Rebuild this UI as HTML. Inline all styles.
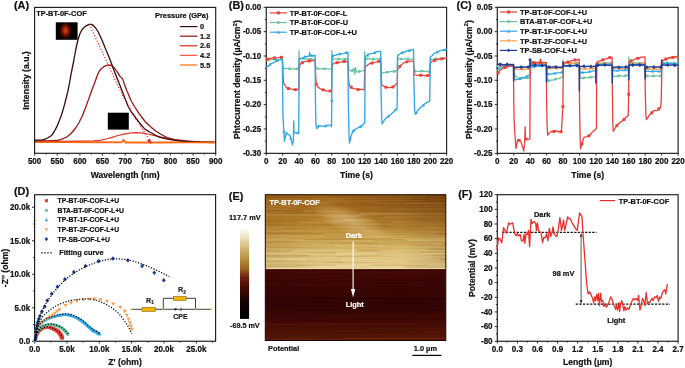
<!DOCTYPE html><html><head><meta charset="utf-8"><style>html,body{margin:0;padding:0;background:#fff;}svg{display:block;will-change:transform;}</style></head><body><svg width="685" height="368" viewBox="0 0 685 368" font-family='"Liberation Sans", sans-serif'>
<rect width="685" height="368" fill="#fff"/>
<text transform="translate(13.9,8.5) scale(1,1.06)" x="0" y="0" font-size="10.9" text-anchor="start" font-weight="bold" fill="#111" stroke="#111" stroke-width="0.2" >(A)</text>
<polyline points="34.6,141.8 80,141.9 121,142.1 122.6,141 123.4,139.8 124.3,141 125.5,142.1 150,142.3 180,142.2 215,142.3" fill="none" stroke="#ff5a46" stroke-width="1.2" stroke-linejoin="round" stroke-linecap="round" />
<polyline points="34.6,141.4 60,141.4 80,141.2 93.5,140.9 100,140.3 106,139 112,137.4 118,135.5 124,134.2 130,133.2 136,132.7 140,132.8 143.4,133.2 148,134 152.4,135.1 160,136.9 171.8,139.4 180,140.8 190,141.7 215,142.3" fill="none" stroke="#d93a28" stroke-width="1.25" stroke-linejoin="round" stroke-linecap="round" />
<polyline points="34.6,140.8 50,140.7 55,140.5 57.8,140.3 62,139.2 66.8,137 71,133.5 75.7,128 79,122.5 82.4,115.8 85.8,107 89.1,97.9 92,89.8 95.5,80.5 97.5,75 99.5,70.8 101.5,68.5 104,66.6 106.5,65.4 109.1,64.8 112,65.8 114.6,68.3 117.8,72.6 120,76.4 121.4,77.6 122.7,79.1 124.3,84 127,91 131,100.5 134.8,107 138.6,112.9 142.5,118 145.2,121.7 148.5,124.8 151.5,127.5 155.7,131 160,133.8 167.1,137.6 175,139.6 185,141 200,141.9 215,142.3" fill="none" stroke="#961818" stroke-width="1.3" stroke-linejoin="round" stroke-linecap="round" />
<polyline points="34.6,140.2 40,140.1 42,139.9 44.5,139.3 47.5,138 51.2,135.8 54,132 56.7,126.9 59,121.5 61.2,115.8 63,110 64.5,104.6 66.2,98 67.9,91.2 69.6,82.5 71.2,73.4 72.6,66.5 73.9,60 75.3,52 76.7,45 78.2,39 79.8,34 81.6,30.3 83.5,28 86,25.8 89.2,24.3 91.5,24.4 93.5,25.6 96,28.5 98.5,32.5 101.3,38.5 103.8,44.5 106.2,50.5 109,57 111.3,63 113.8,70 117.8,80 121.4,89 124.8,98 128.1,106.2 131,111.5 134,115.5 136.5,119 139,122.2 142,126 144.3,128.4 147,130.4 149.7,132 152.5,133.5 156,135.5 159.5,137.1 165.2,138.6 172,139.8 180,140.8 190,141.6 200,142.1 215,142.3" fill="none" stroke="#3a0c0c" stroke-width="1.3" stroke-linejoin="round" stroke-linecap="round" />
<polyline points="34.6,142.2 60,142.3 100,142.5 121,142.5 122.6,141.3 123.4,139.5 124.3,141.3 125.5,142.6 160,142.6 190,142.5 215,142.6" fill="none" stroke="#ff6a10" stroke-width="1.6" stroke-linejoin="round" stroke-linecap="round" />
<polyline points="89.4,24.3 96.6,40 106,60 115.1,80 124,98 133.6,115 142,128.5 148.3,138.3" fill="none" stroke="#ff1a1a" stroke-width="1.25" stroke-linejoin="round" stroke-linecap="butt" stroke-dasharray="1.1,1.9"/>
<path d="M151.6,144.2 L147.0,140.6 L150.0,138.6Z" fill="#ff1a1a"/>
<defs><radialGradient id="glow" gradientUnits="userSpaceOnUse" cx="65.6" cy="30.5" r="9" gradientTransform="translate(65.6 30.5) scale(0.8 1.1) translate(-65.6 -30.5)"><stop offset="0" stop-color="#dc4a0e"/><stop offset="0.22" stop-color="#b83208"/><stop offset="0.5" stop-color="#681000"/><stop offset="0.8" stop-color="#1a0200"/><stop offset="1" stop-color="#050000"/></radialGradient></defs>
<rect x="55.8" y="22.3" width="21.8" height="17.5" fill="url(#glow)" />
<rect x="107.8" y="112.7" width="21" height="16.9" fill="#000" />
<rect x="34.6" y="7.4" width="181.1" height="145.9" fill="none" stroke="#1a1a1a" stroke-width="1.15"/>
<line x1="34.6" y1="153.3" x2="34.6" y2="155.6" stroke="#1a1a1a" stroke-width="0.9" />
<text transform="translate(34.6,164.1) scale(1,1.12)" x="0" y="0" font-size="8.05" text-anchor="middle" font-weight="bold" fill="#111" stroke="#111" stroke-width="0.2" >500</text>
<line x1="45.92" y1="153.3" x2="45.92" y2="154.6" stroke="#1a1a1a" stroke-width="0.9" />
<line x1="57.24" y1="153.3" x2="57.24" y2="155.6" stroke="#1a1a1a" stroke-width="0.9" />
<text transform="translate(57.24,164.1) scale(1,1.12)" x="0" y="0" font-size="8.05" text-anchor="middle" font-weight="bold" fill="#111" stroke="#111" stroke-width="0.2" >550</text>
<line x1="68.56" y1="153.3" x2="68.56" y2="154.6" stroke="#1a1a1a" stroke-width="0.9" />
<line x1="79.88" y1="153.3" x2="79.88" y2="155.6" stroke="#1a1a1a" stroke-width="0.9" />
<text transform="translate(79.88,164.1) scale(1,1.12)" x="0" y="0" font-size="8.05" text-anchor="middle" font-weight="bold" fill="#111" stroke="#111" stroke-width="0.2" >600</text>
<line x1="91.19" y1="153.3" x2="91.19" y2="154.6" stroke="#1a1a1a" stroke-width="0.9" />
<line x1="102.51" y1="153.3" x2="102.51" y2="155.6" stroke="#1a1a1a" stroke-width="0.9" />
<text transform="translate(102.51,164.1) scale(1,1.12)" x="0" y="0" font-size="8.05" text-anchor="middle" font-weight="bold" fill="#111" stroke="#111" stroke-width="0.2" >650</text>
<line x1="113.83" y1="153.3" x2="113.83" y2="154.6" stroke="#1a1a1a" stroke-width="0.9" />
<line x1="125.15" y1="153.3" x2="125.15" y2="155.6" stroke="#1a1a1a" stroke-width="0.9" />
<text transform="translate(125.15,164.1) scale(1,1.12)" x="0" y="0" font-size="8.05" text-anchor="middle" font-weight="bold" fill="#111" stroke="#111" stroke-width="0.2" >700</text>
<line x1="136.47" y1="153.3" x2="136.47" y2="154.6" stroke="#1a1a1a" stroke-width="0.9" />
<line x1="147.79" y1="153.3" x2="147.79" y2="155.6" stroke="#1a1a1a" stroke-width="0.9" />
<text transform="translate(147.79,164.1) scale(1,1.12)" x="0" y="0" font-size="8.05" text-anchor="middle" font-weight="bold" fill="#111" stroke="#111" stroke-width="0.2" >750</text>
<line x1="159.11" y1="153.3" x2="159.11" y2="154.6" stroke="#1a1a1a" stroke-width="0.9" />
<line x1="170.42" y1="153.3" x2="170.42" y2="155.6" stroke="#1a1a1a" stroke-width="0.9" />
<text transform="translate(170.42,164.1) scale(1,1.12)" x="0" y="0" font-size="8.05" text-anchor="middle" font-weight="bold" fill="#111" stroke="#111" stroke-width="0.2" >800</text>
<line x1="181.74" y1="153.3" x2="181.74" y2="154.6" stroke="#1a1a1a" stroke-width="0.9" />
<line x1="193.06" y1="153.3" x2="193.06" y2="155.6" stroke="#1a1a1a" stroke-width="0.9" />
<text transform="translate(193.06,164.1) scale(1,1.12)" x="0" y="0" font-size="8.05" text-anchor="middle" font-weight="bold" fill="#111" stroke="#111" stroke-width="0.2" >850</text>
<line x1="204.38" y1="153.3" x2="204.38" y2="154.6" stroke="#1a1a1a" stroke-width="0.9" />
<line x1="215.7" y1="153.3" x2="215.7" y2="155.6" stroke="#1a1a1a" stroke-width="0.9" />
<text transform="translate(215.7,164.1) scale(1,1.12)" x="0" y="0" font-size="8.05" text-anchor="middle" font-weight="bold" fill="#111" stroke="#111" stroke-width="0.2" >900</text>
<text x="125.1" y="177.8" font-size="8.6" text-anchor="middle" font-weight="bold" fill="#111" stroke="#111" stroke-width="0.2" >Wavelength (nm)</text>
<text transform="translate(29,80.5) rotate(-90)" x="0" y="0" font-size="8.6" text-anchor="middle" font-weight="bold" fill="#111" stroke="#111" stroke-width="0.2">Intensity (a.u.)</text>
<text x="36.2" y="16.4" font-size="7.4" text-anchor="start" font-weight="bold" fill="#111" stroke="#111" stroke-width="0.2" >TP-BT-0F-COF</text>
<text x="155" y="18.3" font-size="7.4" text-anchor="start" font-weight="bold" fill="#111" stroke="#111" stroke-width="0.2" >Pressure (GPa)</text>
<line x1="180.1" y1="26.6" x2="197.4" y2="26.6" stroke="#3a0c0c" stroke-width="1.2" />
<text x="200" y="29.2" font-size="7.4" text-anchor="start" font-weight="bold" fill="#111" stroke="#111" stroke-width="0.2" >0</text>
<line x1="180.1" y1="36.2" x2="197.4" y2="36.2" stroke="#8e1616" stroke-width="1.2" />
<text x="200" y="38.8" font-size="7.4" text-anchor="start" font-weight="bold" fill="#111" stroke="#111" stroke-width="0.2" >1.2</text>
<line x1="180.1" y1="45.8" x2="197.4" y2="45.8" stroke="#d93a28" stroke-width="1.3" />
<text x="200" y="48.4" font-size="7.4" text-anchor="start" font-weight="bold" fill="#111" stroke="#111" stroke-width="0.2" >2.6</text>
<line x1="180.1" y1="55.4" x2="197.4" y2="55.4" stroke="#ff5a46" stroke-width="1.3" />
<text x="200" y="58" font-size="7.4" text-anchor="start" font-weight="bold" fill="#111" stroke="#111" stroke-width="0.2" >4.2</text>
<line x1="180.1" y1="65" x2="197.4" y2="65" stroke="#ff6a10" stroke-width="1.2" />
<text x="200" y="67.6" font-size="7.4" text-anchor="start" font-weight="bold" fill="#111" stroke="#111" stroke-width="0.2" >5.5</text>
<rect x="266.25" y="7.3" width="180.35" height="146.05" fill="none" stroke="#1a1a1a" stroke-width="1.15"/>
<line x1="263.65" y1="7.3" x2="266.25" y2="7.3" stroke="#1a1a1a" stroke-width="0.9" />
<text transform="translate(261.2,10.05) scale(1,1.12)" x="0" y="0" font-size="8.05" text-anchor="end" font-weight="bold" fill="#111" stroke="#111" stroke-width="0.2" >0.00</text>
<line x1="264.85" y1="19.47" x2="266.25" y2="19.47" stroke="#1a1a1a" stroke-width="0.9" />
<line x1="263.65" y1="31.64" x2="266.25" y2="31.64" stroke="#1a1a1a" stroke-width="0.9" />
<text transform="translate(261.2,34.39) scale(1,1.12)" x="0" y="0" font-size="8.05" text-anchor="end" font-weight="bold" fill="#111" stroke="#111" stroke-width="0.2" >-0.05</text>
<line x1="264.85" y1="43.81" x2="266.25" y2="43.81" stroke="#1a1a1a" stroke-width="0.9" />
<line x1="263.65" y1="55.98" x2="266.25" y2="55.98" stroke="#1a1a1a" stroke-width="0.9" />
<text transform="translate(261.2,58.73) scale(1,1.12)" x="0" y="0" font-size="8.05" text-anchor="end" font-weight="bold" fill="#111" stroke="#111" stroke-width="0.2" >-0.10</text>
<line x1="264.85" y1="68.15" x2="266.25" y2="68.15" stroke="#1a1a1a" stroke-width="0.9" />
<line x1="263.65" y1="80.32" x2="266.25" y2="80.32" stroke="#1a1a1a" stroke-width="0.9" />
<text transform="translate(261.2,83.07) scale(1,1.12)" x="0" y="0" font-size="8.05" text-anchor="end" font-weight="bold" fill="#111" stroke="#111" stroke-width="0.2" >-0.15</text>
<line x1="264.85" y1="92.5" x2="266.25" y2="92.5" stroke="#1a1a1a" stroke-width="0.9" />
<line x1="263.65" y1="104.67" x2="266.25" y2="104.67" stroke="#1a1a1a" stroke-width="0.9" />
<text transform="translate(261.2,107.42) scale(1,1.12)" x="0" y="0" font-size="8.05" text-anchor="end" font-weight="bold" fill="#111" stroke="#111" stroke-width="0.2" >-0.20</text>
<line x1="264.85" y1="116.84" x2="266.25" y2="116.84" stroke="#1a1a1a" stroke-width="0.9" />
<line x1="263.65" y1="129.01" x2="266.25" y2="129.01" stroke="#1a1a1a" stroke-width="0.9" />
<text transform="translate(261.2,131.76) scale(1,1.12)" x="0" y="0" font-size="8.05" text-anchor="end" font-weight="bold" fill="#111" stroke="#111" stroke-width="0.2" >-0.25</text>
<line x1="264.85" y1="141.18" x2="266.25" y2="141.18" stroke="#1a1a1a" stroke-width="0.9" />
<line x1="263.65" y1="153.35" x2="266.25" y2="153.35" stroke="#1a1a1a" stroke-width="0.9" />
<text transform="translate(261.2,156.1) scale(1,1.12)" x="0" y="0" font-size="8.05" text-anchor="end" font-weight="bold" fill="#111" stroke="#111" stroke-width="0.2" >-0.30</text>
<line x1="266.25" y1="153.35" x2="266.25" y2="155.65" stroke="#1a1a1a" stroke-width="0.9" />
<text transform="translate(266.25,164.1) scale(1,1.12)" x="0" y="0" font-size="8.05" text-anchor="middle" font-weight="bold" fill="#111" stroke="#111" stroke-width="0.2" >0</text>
<line x1="282.65" y1="153.35" x2="282.65" y2="155.65" stroke="#1a1a1a" stroke-width="0.9" />
<text transform="translate(282.65,164.1) scale(1,1.12)" x="0" y="0" font-size="8.05" text-anchor="middle" font-weight="bold" fill="#111" stroke="#111" stroke-width="0.2" >20</text>
<line x1="299.04" y1="153.35" x2="299.04" y2="155.65" stroke="#1a1a1a" stroke-width="0.9" />
<text transform="translate(299.04,164.1) scale(1,1.12)" x="0" y="0" font-size="8.05" text-anchor="middle" font-weight="bold" fill="#111" stroke="#111" stroke-width="0.2" >40</text>
<line x1="315.44" y1="153.35" x2="315.44" y2="155.65" stroke="#1a1a1a" stroke-width="0.9" />
<text transform="translate(315.44,164.1) scale(1,1.12)" x="0" y="0" font-size="8.05" text-anchor="middle" font-weight="bold" fill="#111" stroke="#111" stroke-width="0.2" >60</text>
<line x1="331.83" y1="153.35" x2="331.83" y2="155.65" stroke="#1a1a1a" stroke-width="0.9" />
<text transform="translate(331.83,164.1) scale(1,1.12)" x="0" y="0" font-size="8.05" text-anchor="middle" font-weight="bold" fill="#111" stroke="#111" stroke-width="0.2" >80</text>
<line x1="348.23" y1="153.35" x2="348.23" y2="155.65" stroke="#1a1a1a" stroke-width="0.9" />
<text transform="translate(348.23,164.1) scale(1,1.12)" x="0" y="0" font-size="8.05" text-anchor="middle" font-weight="bold" fill="#111" stroke="#111" stroke-width="0.2" >100</text>
<line x1="364.62" y1="153.35" x2="364.62" y2="155.65" stroke="#1a1a1a" stroke-width="0.9" />
<text transform="translate(364.62,164.1) scale(1,1.12)" x="0" y="0" font-size="8.05" text-anchor="middle" font-weight="bold" fill="#111" stroke="#111" stroke-width="0.2" >120</text>
<line x1="381.02" y1="153.35" x2="381.02" y2="155.65" stroke="#1a1a1a" stroke-width="0.9" />
<text transform="translate(381.02,164.1) scale(1,1.12)" x="0" y="0" font-size="8.05" text-anchor="middle" font-weight="bold" fill="#111" stroke="#111" stroke-width="0.2" >140</text>
<line x1="397.41" y1="153.35" x2="397.41" y2="155.65" stroke="#1a1a1a" stroke-width="0.9" />
<text transform="translate(397.41,164.1) scale(1,1.12)" x="0" y="0" font-size="8.05" text-anchor="middle" font-weight="bold" fill="#111" stroke="#111" stroke-width="0.2" >160</text>
<line x1="413.81" y1="153.35" x2="413.81" y2="155.65" stroke="#1a1a1a" stroke-width="0.9" />
<text transform="translate(413.81,164.1) scale(1,1.12)" x="0" y="0" font-size="8.05" text-anchor="middle" font-weight="bold" fill="#111" stroke="#111" stroke-width="0.2" >180</text>
<line x1="430.2" y1="153.35" x2="430.2" y2="155.65" stroke="#1a1a1a" stroke-width="0.9" />
<text transform="translate(430.2,164.1) scale(1,1.12)" x="0" y="0" font-size="8.05" text-anchor="middle" font-weight="bold" fill="#111" stroke="#111" stroke-width="0.2" >200</text>
<line x1="446.6" y1="153.35" x2="446.6" y2="155.65" stroke="#1a1a1a" stroke-width="0.9" />
<text transform="translate(446.6,164.1) scale(1,1.12)" x="0" y="0" font-size="8.05" text-anchor="middle" font-weight="bold" fill="#111" stroke="#111" stroke-width="0.2" >220</text>
<text x="356.43" y="177.8" font-size="8.6" text-anchor="middle" font-weight="bold" fill="#111" stroke="#111" stroke-width="0.2" >Time (s)</text>
<text transform="translate(240.45,79.6) rotate(-90)" x="0" y="0" font-size="8.6" text-anchor="middle" font-weight="bold" fill="#111" stroke="#111" stroke-width="0.2">Phtocurrent density (&#181;A/cm<tspan dy="-3.4" font-size="6.2">2</tspan><tspan dy="3.4">)</tspan></text>
<text transform="translate(228.8,8.5) scale(1,1.06)" x="0" y="0" font-size="10.9" text-anchor="start" font-weight="bold" fill="#111" stroke="#111" stroke-width="0.2" >(B)</text>
<polyline points="266.25,59.48 267.71,59.36 269.17,59.71 270.63,59.3 272.09,59.63 273.55,59.51 275.01,59.29 276.47,59.61 277.94,59.28 279.4,59.55 280.86,59.3 282.32,59.6 282.73,65.71 283.47,68.45 284.99,68.78 286.51,68.34 288.04,68.46 289.56,68.79 291.09,69.06 292.61,68.85 294.14,68.78 295.66,69.23 297.19,68.63 298.71,69 299.04,50.5 299.37,59.05 300.8,58.69 302.23,58.62 303.66,58.64 305.09,58.81 306.52,59.2 307.95,58.79 309.38,59.11 310.82,59.19 312.25,59.04 313.68,59.2 315.11,59.2 315.52,65.69 316.26,68.49 317.78,68.6 319.31,68.95 320.83,68.78 322.36,68.71 323.88,68.91 325.4,68.83 326.93,68.73 328.45,69.09 329.98,69.03 331.5,68.9 331.83,50.5 332.16,58.62 333.59,58.89 335.02,58.89 336.45,59.17 337.88,59.11 339.31,58.83 340.74,59.35 342.18,58.79 343.61,59.03 345.04,59.31 346.47,58.92 347.9,59.2 348.31,65.99 349.05,70.08 350.69,70.62 352.33,70.79 353.97,68.05 354.79,74.26 355.61,67.37 356.43,72.14 358,71.75 359.57,71.42 361.15,71.01 362.72,70.96 364.29,70.4 364.62,51.4 364.95,59.11 366.38,58.8 367.81,58.95 369.24,58.55 370.67,59.01 372.11,58.99 373.54,59.25 374.97,59.15 376.4,58.79 377.83,58.88 379.26,59.1 380.69,59 381.1,67.67 381.84,73.27 383.31,72.81 384.79,72.51 386.26,72.21 387.74,72.45 389.22,71.74 390.79,71.58 392.36,71.44 393.94,71.54 395.51,70.75 397.09,70.8 397.41,56 397.74,58.76 399.17,58.85 400.6,59.1 402.03,59.08 403.47,59.13 404.9,58.74 406.33,58.85 407.76,58.83 409.19,59.21 410.62,59.28 412.05,58.74 413.48,59 413.89,65.77 414.63,71.21 416.15,71.21 417.68,71.39 419.2,71.46 420.73,71.23 422.25,71.05 423.78,71.34 425.3,71.31 426.83,71.45 428.35,71.72 429.88,71.4 430.2,58 430.53,59.63 431.99,59.37 433.45,59.31 434.91,59.21 436.38,58.64 437.84,59.1 439.3,58.88 440.76,58.81 442.22,58.62 443.68,58.2 445.14,58.07 446.6,58" fill="none" stroke="#6cc3a3" stroke-width="1.25" stroke-linejoin="round" stroke-linecap="round" />
<circle cx="268.71" cy="59.59" r="1.45" fill="#6cc3a3"/>
<circle cx="275.68" cy="59.43" r="1.45" fill="#6cc3a3"/>
<circle cx="289.61" cy="68.8" r="1.45" fill="#6cc3a3"/>
<circle cx="296.58" cy="68.87" r="1.45" fill="#6cc3a3"/>
<circle cx="303.55" cy="58.64" r="1.45" fill="#6cc3a3"/>
<circle cx="310.52" cy="59.17" r="1.45" fill="#6cc3a3"/>
<circle cx="317.49" cy="68.58" r="1.45" fill="#6cc3a3"/>
<circle cx="324.45" cy="68.88" r="1.45" fill="#6cc3a3"/>
<circle cx="338.39" cy="59.01" r="1.45" fill="#6cc3a3"/>
<circle cx="345.36" cy="59.22" r="1.45" fill="#6cc3a3"/>
<circle cx="352.33" cy="70.79" r="1.45" fill="#6cc3a3"/>
<circle cx="359.29" cy="71.47" r="1.45" fill="#6cc3a3"/>
<circle cx="366.26" cy="58.83" r="1.45" fill="#6cc3a3"/>
<circle cx="373.23" cy="59.2" r="1.45" fill="#6cc3a3"/>
<circle cx="380.2" cy="59.03" r="1.45" fill="#6cc3a3"/>
<circle cx="387.17" cy="72.36" r="1.45" fill="#6cc3a3"/>
<circle cx="394.13" cy="71.44" r="1.45" fill="#6cc3a3"/>
<circle cx="401.1" cy="59.1" r="1.45" fill="#6cc3a3"/>
<circle cx="408.07" cy="58.91" r="1.45" fill="#6cc3a3"/>
<circle cx="415.04" cy="71.21" r="1.45" fill="#6cc3a3"/>
<circle cx="422.01" cy="71.08" r="1.45" fill="#6cc3a3"/>
<circle cx="428.97" cy="71.59" r="1.45" fill="#6cc3a3"/>
<circle cx="435.94" cy="58.81" r="1.45" fill="#6cc3a3"/>
<circle cx="442.91" cy="58.42" r="1.45" fill="#6cc3a3"/>
<polyline points="266.25,59.26 268.3,59.13 270.35,58.34 272.4,58.09 274.45,57.93 276.5,57.75 278.55,57.7 280.43,57.38 282.32,57.2 282.81,69.79 283.3,79.76 283.88,83.42 285.1,85.72 286.74,87.82 289.2,88.87 290.84,88.94 292.48,89.35 294.12,89.56 295.76,89.72 297.24,89.47 298.71,89.6 299.12,66.21 299.86,64.8 301.5,62.98 303.96,61.99 305.6,61.4 307.24,61.06 309.29,60.96 311.34,60.66 313.22,60.8 315.11,60.2 315.6,73.71 316.26,84.27 317.49,86.52 319.54,88.29 321.17,89.28 322.81,89.72 324.86,90.42 326.91,91.09 328.44,91.08 329.97,91.05 331.5,91 331.91,65.86 332.65,64.62 335.11,62.8 336.75,62.81 338.39,62.32 340.44,62.22 342.49,61.7 344.29,61.47 346.1,61.65 347.9,61.59 348.39,74.21 349.05,84.18 350.69,86.99 353.15,88.64 355.2,88.84 357.24,89.51 358.65,89.47 360.06,89.34 361.47,89.4 362.88,89.61 364.29,89.8 364.7,67.86 365.44,66.72 367.9,64.77 369.54,63.72 371.18,63.26 373.23,62.79 375.28,62.27 377.08,61.69 378.89,61.37 380.69,61.14 381.18,75.82 381.84,85.42 383.48,86.27 385.12,87.04 387.17,87.4 389.22,87.59 390.86,87.49 392.5,87.38 394.95,85.25 397.09,83.3 397.5,70.1 398.23,68.75 400.69,65.17 402.33,64.05 403.97,62.79 406.02,61.96 408.07,61.67 409.87,61.07 411.68,61.01 413.48,60.78 413.97,71.94 414.63,74.74 416.68,75.32 418.73,75.43 420.37,75.2 422.01,75.28 423.65,75.39 425.2,75.82 426.76,75.73 428.32,75.31 429.88,75.5 430.29,64.2 431.02,62.19 432.66,61.29 434.3,60.41 436.35,59.93 438.4,59.08 440.45,58.61 442.5,58.78 444.55,58.34 446.6,58" fill="none" stroke="#e8403a" stroke-width="1.25" stroke-linejoin="round" stroke-linecap="round" />
<rect x="266.03" y="57.73" width="2.9" height="2.9" fill="#e8403a" />
<rect x="273" y="56.48" width="2.9" height="2.9" fill="#e8403a" />
<rect x="279.97" y="55.84" width="2.9" height="2.9" fill="#e8403a" />
<rect x="286.93" y="87.07" width="2.9" height="2.9" fill="#e8403a" />
<rect x="293.9" y="88.23" width="2.9" height="2.9" fill="#e8403a" />
<rect x="300.87" y="61.2" width="2.9" height="2.9" fill="#e8403a" />
<rect x="307.84" y="59.51" width="2.9" height="2.9" fill="#e8403a" />
<rect x="314.81" y="82.82" width="2.9" height="2.9" fill="#e8403a" />
<rect x="321.77" y="88.41" width="2.9" height="2.9" fill="#e8403a" />
<rect x="328.74" y="89.59" width="2.9" height="2.9" fill="#e8403a" />
<rect x="335.71" y="61.24" width="2.9" height="2.9" fill="#e8403a" />
<rect x="342.68" y="60.04" width="2.9" height="2.9" fill="#e8403a" />
<rect x="349.65" y="85.82" width="2.9" height="2.9" fill="#e8403a" />
<rect x="356.61" y="88.04" width="2.9" height="2.9" fill="#e8403a" />
<rect x="370.55" y="61.62" width="2.9" height="2.9" fill="#e8403a" />
<rect x="377.52" y="59.91" width="2.9" height="2.9" fill="#e8403a" />
<rect x="384.49" y="85.74" width="2.9" height="2.9" fill="#e8403a" />
<rect x="391.45" y="85.57" width="2.9" height="2.9" fill="#e8403a" />
<rect x="398.42" y="64.91" width="2.9" height="2.9" fill="#e8403a" />
<rect x="405.39" y="60.39" width="2.9" height="2.9" fill="#e8403a" />
<rect x="419.33" y="73.77" width="2.9" height="2.9" fill="#e8403a" />
<rect x="426.3" y="74.02" width="2.9" height="2.9" fill="#e8403a" />
<rect x="433.26" y="58.86" width="2.9" height="2.9" fill="#e8403a" />
<rect x="440.23" y="57.26" width="2.9" height="2.9" fill="#e8403a" />
<polyline points="266.25,67.62 268.71,65.65 271.17,63.45 272.81,63.05 274.45,62.26 276.5,60.97 278.55,60.2 280.47,59.53 282.4,59 282.65,95 282.97,114.79 283.63,128.07 284.53,141.21 285.51,135.94 286.5,132.5 287.97,134.33 289.94,135.28 291.25,139.97 292.48,144.87 293.47,140 293.71,120.8 294.04,133.12 295.76,132.54 297.24,133.03 298.71,132.8 299.04,80 299.29,59 301.21,58.28 303.14,57.52 305.19,56.61 307.24,56.45 309.29,56 309.7,52.4 310.11,55.95 311.77,55.47 313.44,55.77 315.11,55.2 315.44,99.74 315.93,124.98 316.83,128.68 318.72,126.05 320.36,125.93 321.99,126.15 323.63,126.24 325.68,126.08 327.73,125.18 330.44,125.15 331.5,126.8 331.75,100.3 332,70 332.24,56 334.09,55.42 335.93,55.22 337.98,54.41 340.03,53.85 342.08,53.61 344.13,53.33 346.05,52.65 347.98,52.4 348.23,100.09 349.05,135 349.46,143.1 351.1,136.01 352.82,131.25 354.79,129.46 357.08,128.53 358.88,127.18 361.34,126.35 363.8,123.96 364.79,122.5 365.03,80 365.28,56.5 367,55.6 368.72,54.11 370.77,53.7 372.82,53.35 374.87,52.77 376.92,51.71 378.85,51.4 380.77,51.4 381.02,89.95 381.76,120 382.17,123.86 383.89,120.79 385.94,117.96 388.4,116.34 391.02,114.23 393.72,111.82 395.41,109.87 397.09,108.8 397.41,80 397.66,55.37 399.59,54.23 401.51,52.71 403.56,52.46 405.61,51.67 407.66,50.53 409.71,50.56 411.64,49.77 413.56,49.5 413.81,79.99 414.63,110.39 415.45,114.27 417.5,110.73 420.04,107.95 422.83,105.51 425.2,103.57 427.34,102.16 429.71,101.1 430.04,80 430.37,56.95 432.34,55.48 434.3,53.12 436.35,52.54 438.4,51.45 440.45,50.46 442.5,50.07 444.55,49.95 446.6,49.5" fill="none" stroke="#2fa8e6" stroke-width="1.35" stroke-linejoin="round" stroke-linecap="round" />
<path d="M269.94,62.75 L271.66,65.75 L268.21,65.75Z" fill="#2fa8e6"/>
<path d="M276.91,59.02 L278.63,62.02 L275.18,62.02Z" fill="#2fa8e6"/>
<path d="M283.88,129.85 L285.6,132.85 L282.15,132.85Z" fill="#2fa8e6"/>
<path d="M290.84,136.7 L292.57,139.7 L289.12,139.7Z" fill="#2fa8e6"/>
<path d="M297.81,131.14 L299.54,134.14 L296.09,134.14Z" fill="#2fa8e6"/>
<path d="M304.78,55 L306.5,58 L303.05,58Z" fill="#2fa8e6"/>
<path d="M311.75,53.68 L313.47,56.68 L310.02,56.68Z" fill="#2fa8e6"/>
<path d="M318.72,124.25 L320.44,127.25 L316.99,127.25Z" fill="#2fa8e6"/>
<path d="M325.68,124.28 L327.41,127.28 L323.96,127.28Z" fill="#2fa8e6"/>
<path d="M332.65,54.07 L334.38,57.07 L330.93,57.07Z" fill="#2fa8e6"/>
<path d="M339.62,52.16 L341.34,55.16 L337.89,55.16Z" fill="#2fa8e6"/>
<path d="M346.59,50.78 L348.31,53.78 L344.86,53.78Z" fill="#2fa8e6"/>
<path d="M353.56,128.78 L355.28,131.78 L351.83,131.78Z" fill="#2fa8e6"/>
<path d="M360.52,124.83 L362.25,127.83 L358.8,127.83Z" fill="#2fa8e6"/>
<path d="M367.49,53.38 L369.22,56.38 L365.77,56.38Z" fill="#2fa8e6"/>
<path d="M374.46,51.09 L376.19,54.09 L372.74,54.09Z" fill="#2fa8e6"/>
<path d="M388.4,114.54 L390.12,117.54 L386.67,117.54Z" fill="#2fa8e6"/>
<path d="M395.36,108.12 L397.09,111.12 L393.64,111.12Z" fill="#2fa8e6"/>
<path d="M402.33,50.81 L404.06,53.81 L400.61,53.81Z" fill="#2fa8e6"/>
<path d="M409.3,48.75 L411.03,51.75 L407.58,51.75Z" fill="#2fa8e6"/>
<path d="M416.27,111.05 L417.99,114.05 L414.54,114.05Z" fill="#2fa8e6"/>
<path d="M423.24,103.38 L424.96,106.38 L421.51,106.38Z" fill="#2fa8e6"/>
<path d="M437.17,50.31 L438.9,53.31 L435.45,53.31Z" fill="#2fa8e6"/>
<path d="M444.14,48.17 L445.87,51.17 L442.42,51.17Z" fill="#2fa8e6"/>
<path d="M331.75,98.5 L333.47,101.5 L330.02,101.5Z" fill="#2fa8e6"/>
<path d="M299.29,64.2 L301.01,67.2 L297.56,67.2Z" fill="#2fa8e6"/>
<line x1="269.9" y1="12.9" x2="286.8" y2="12.9" stroke="#e8403a" stroke-width="1.2" />
<rect x="276.9" y="11.4" width="3" height="3" fill="#e8403a" />
<text transform="translate(289.7,15.65) scale(1,1.08)" x="0" y="0" font-size="7.4" text-anchor="start" font-weight="bold" fill="#111" stroke="#111" stroke-width="0.2" >TP-BT-0F-COF-L</text>
<line x1="269.9" y1="22.55" x2="286.8" y2="22.55" stroke="#6cc3a3" stroke-width="1.2" />
<circle cx="278.4" cy="22.55" r="1.5" fill="#6cc3a3"/>
<text transform="translate(289.7,25.3) scale(1,1.08)" x="0" y="0" font-size="7.4" text-anchor="start" font-weight="bold" fill="#111" stroke="#111" stroke-width="0.2" >TP-BT-0F-COF-U</text>
<line x1="269.9" y1="32.2" x2="286.8" y2="32.2" stroke="#2fa8e6" stroke-width="1.2" />
<path d="M278.4,30.4 L280.12,33.4 L276.67,33.4Z" fill="#2fa8e6"/>
<text transform="translate(289.7,34.95) scale(1,1.08)" x="0" y="0" font-size="7.4" text-anchor="start" font-weight="bold" fill="#111" stroke="#111" stroke-width="0.2" >TP-BT-0F-COF-L+U</text>
<rect x="497.3" y="7.3" width="180.8" height="146.05" fill="none" stroke="#1a1a1a" stroke-width="1.15"/>
<line x1="494.7" y1="7.3" x2="497.3" y2="7.3" stroke="#1a1a1a" stroke-width="0.9" />
<text transform="translate(492.4,10.05) scale(1,1.12)" x="0" y="0" font-size="8.05" text-anchor="end" font-weight="bold" fill="#111" stroke="#111" stroke-width="0.2" >0.05</text>
<line x1="495.9" y1="19.47" x2="497.3" y2="19.47" stroke="#1a1a1a" stroke-width="0.9" />
<line x1="494.7" y1="31.64" x2="497.3" y2="31.64" stroke="#1a1a1a" stroke-width="0.9" />
<text transform="translate(492.4,34.39) scale(1,1.12)" x="0" y="0" font-size="8.05" text-anchor="end" font-weight="bold" fill="#111" stroke="#111" stroke-width="0.2" >0.00</text>
<line x1="495.9" y1="43.81" x2="497.3" y2="43.81" stroke="#1a1a1a" stroke-width="0.9" />
<line x1="494.7" y1="55.98" x2="497.3" y2="55.98" stroke="#1a1a1a" stroke-width="0.9" />
<text transform="translate(492.4,58.73) scale(1,1.12)" x="0" y="0" font-size="8.05" text-anchor="end" font-weight="bold" fill="#111" stroke="#111" stroke-width="0.2" >-0.05</text>
<line x1="495.9" y1="68.15" x2="497.3" y2="68.15" stroke="#1a1a1a" stroke-width="0.9" />
<line x1="494.7" y1="80.32" x2="497.3" y2="80.32" stroke="#1a1a1a" stroke-width="0.9" />
<text transform="translate(492.4,83.07) scale(1,1.12)" x="0" y="0" font-size="8.05" text-anchor="end" font-weight="bold" fill="#111" stroke="#111" stroke-width="0.2" >-0.10</text>
<line x1="495.9" y1="92.5" x2="497.3" y2="92.5" stroke="#1a1a1a" stroke-width="0.9" />
<line x1="494.7" y1="104.67" x2="497.3" y2="104.67" stroke="#1a1a1a" stroke-width="0.9" />
<text transform="translate(492.4,107.42) scale(1,1.12)" x="0" y="0" font-size="8.05" text-anchor="end" font-weight="bold" fill="#111" stroke="#111" stroke-width="0.2" >-0.15</text>
<line x1="495.9" y1="116.84" x2="497.3" y2="116.84" stroke="#1a1a1a" stroke-width="0.9" />
<line x1="494.7" y1="129.01" x2="497.3" y2="129.01" stroke="#1a1a1a" stroke-width="0.9" />
<text transform="translate(492.4,131.76) scale(1,1.12)" x="0" y="0" font-size="8.05" text-anchor="end" font-weight="bold" fill="#111" stroke="#111" stroke-width="0.2" >-0.20</text>
<line x1="495.9" y1="141.18" x2="497.3" y2="141.18" stroke="#1a1a1a" stroke-width="0.9" />
<line x1="494.7" y1="153.35" x2="497.3" y2="153.35" stroke="#1a1a1a" stroke-width="0.9" />
<text transform="translate(492.4,156.1) scale(1,1.12)" x="0" y="0" font-size="8.05" text-anchor="end" font-weight="bold" fill="#111" stroke="#111" stroke-width="0.2" >-0.25</text>
<line x1="497.3" y1="153.35" x2="497.3" y2="155.65" stroke="#1a1a1a" stroke-width="0.9" />
<text transform="translate(497.3,164.1) scale(1,1.12)" x="0" y="0" font-size="8.05" text-anchor="middle" font-weight="bold" fill="#111" stroke="#111" stroke-width="0.2" >0</text>
<line x1="513.74" y1="153.35" x2="513.74" y2="155.65" stroke="#1a1a1a" stroke-width="0.9" />
<text transform="translate(513.74,164.1) scale(1,1.12)" x="0" y="0" font-size="8.05" text-anchor="middle" font-weight="bold" fill="#111" stroke="#111" stroke-width="0.2" >20</text>
<line x1="530.17" y1="153.35" x2="530.17" y2="155.65" stroke="#1a1a1a" stroke-width="0.9" />
<text transform="translate(530.17,164.1) scale(1,1.12)" x="0" y="0" font-size="8.05" text-anchor="middle" font-weight="bold" fill="#111" stroke="#111" stroke-width="0.2" >40</text>
<line x1="546.61" y1="153.35" x2="546.61" y2="155.65" stroke="#1a1a1a" stroke-width="0.9" />
<text transform="translate(546.61,164.1) scale(1,1.12)" x="0" y="0" font-size="8.05" text-anchor="middle" font-weight="bold" fill="#111" stroke="#111" stroke-width="0.2" >60</text>
<line x1="563.05" y1="153.35" x2="563.05" y2="155.65" stroke="#1a1a1a" stroke-width="0.9" />
<text transform="translate(563.05,164.1) scale(1,1.12)" x="0" y="0" font-size="8.05" text-anchor="middle" font-weight="bold" fill="#111" stroke="#111" stroke-width="0.2" >80</text>
<line x1="579.48" y1="153.35" x2="579.48" y2="155.65" stroke="#1a1a1a" stroke-width="0.9" />
<text transform="translate(579.48,164.1) scale(1,1.12)" x="0" y="0" font-size="8.05" text-anchor="middle" font-weight="bold" fill="#111" stroke="#111" stroke-width="0.2" >100</text>
<line x1="595.92" y1="153.35" x2="595.92" y2="155.65" stroke="#1a1a1a" stroke-width="0.9" />
<text transform="translate(595.92,164.1) scale(1,1.12)" x="0" y="0" font-size="8.05" text-anchor="middle" font-weight="bold" fill="#111" stroke="#111" stroke-width="0.2" >120</text>
<line x1="612.35" y1="153.35" x2="612.35" y2="155.65" stroke="#1a1a1a" stroke-width="0.9" />
<text transform="translate(612.35,164.1) scale(1,1.12)" x="0" y="0" font-size="8.05" text-anchor="middle" font-weight="bold" fill="#111" stroke="#111" stroke-width="0.2" >140</text>
<line x1="628.79" y1="153.35" x2="628.79" y2="155.65" stroke="#1a1a1a" stroke-width="0.9" />
<text transform="translate(628.79,164.1) scale(1,1.12)" x="0" y="0" font-size="8.05" text-anchor="middle" font-weight="bold" fill="#111" stroke="#111" stroke-width="0.2" >160</text>
<line x1="645.23" y1="153.35" x2="645.23" y2="155.65" stroke="#1a1a1a" stroke-width="0.9" />
<text transform="translate(645.23,164.1) scale(1,1.12)" x="0" y="0" font-size="8.05" text-anchor="middle" font-weight="bold" fill="#111" stroke="#111" stroke-width="0.2" >180</text>
<line x1="661.66" y1="153.35" x2="661.66" y2="155.65" stroke="#1a1a1a" stroke-width="0.9" />
<text transform="translate(661.66,164.1) scale(1,1.12)" x="0" y="0" font-size="8.05" text-anchor="middle" font-weight="bold" fill="#111" stroke="#111" stroke-width="0.2" >200</text>
<line x1="678.1" y1="153.35" x2="678.1" y2="155.65" stroke="#1a1a1a" stroke-width="0.9" />
<text transform="translate(678.1,164.1) scale(1,1.12)" x="0" y="0" font-size="8.05" text-anchor="middle" font-weight="bold" fill="#111" stroke="#111" stroke-width="0.2" >220</text>
<text x="587.7" y="177.8" font-size="8.6" text-anchor="middle" font-weight="bold" fill="#111" stroke="#111" stroke-width="0.2" >Time (s)</text>
<text transform="translate(471.5,79.6) rotate(-90)" x="0" y="0" font-size="8.6" text-anchor="middle" font-weight="bold" fill="#111" stroke="#111" stroke-width="0.2">Phtocurrent density (&#181;A/cm<tspan dy="-3.4" font-size="6.2">2</tspan><tspan dy="3.4">)</tspan></text>
<text transform="translate(456.5,8.5) scale(1,1.06)" x="0" y="0" font-size="10.9" text-anchor="start" font-weight="bold" fill="#111" stroke="#111" stroke-width="0.2" >(C)</text>
<polyline points="497.3,66.41 498.94,65.88 500.59,66.3 502.23,65.94 503.87,65.85 505.52,65.02 507.11,64.98 508.71,64.66 510.3,65.02 511.9,64.5 513.49,64.5 513.9,73.44 516.2,76.45 517.85,77.69 519.49,78.52 521.13,78.03 522.78,77.85 524.42,78.29 526.26,77.92 528.09,77.87 529.93,77.6 530.25,62.21 531.72,62.19 533.18,62.63 534.65,62.45 536.11,62.2 537.58,62.81 539.04,62.59 540.51,62.71 541.97,62.21 543.43,62.75 544.9,62.2 546.36,62.5 546.77,77.25 548.25,80.87 549.9,80.44 551.54,80.24 553.18,80.15 554.83,79.34 556.42,78.86 558.02,78.76 559.61,78.18 561.2,77.71 562.8,77.6 563.05,59.9 563.37,62.86 564.82,62.79 566.26,62.89 567.7,62.97 569.14,62.96 570.58,63.28 572.03,62.95 573.47,63.1 574.91,62.87 576.35,62.99 577.79,62.76 579.24,63.1 579.65,74.83 580.3,77.96 581.78,78.3 583.26,78.02 584.74,77.6 586.22,77.64 587.7,77.8 589.29,77.06 590.89,77.4 592.48,76.97 594.08,76.86 595.67,76.7 596,63.23 597.46,62.93 598.93,63 600.39,63.13 601.86,63.34 603.32,62.89 604.79,63.23 606.25,63.14 607.72,63.1 609.18,62.93 610.64,62.89 612.11,63 612.52,74.69 613.18,76.44 614.66,76.26 616.13,76.59 617.61,76.11 619.09,75.9 620.57,75.71 622.17,76.12 623.76,76.02 625.36,75.76 626.95,75.37 628.54,75.4 628.79,56.9 629.12,62.82 630.56,62.86 632,62.97 633.45,62.76 634.89,62.96 636.33,62.83 637.77,63.32 639.21,63.33 640.65,63.03 642.1,62.82 643.54,63.33 644.98,63 645.39,73.87 646.05,76 647.59,75.75 649.12,76.02 650.66,76.08 652.2,76.1 653.73,75.89 655.27,76.1 656.81,75.75 658.34,75.93 659.88,75.81 661.42,76.1 661.75,62.93 663.23,62.68 664.72,62.67 666.21,62.86 667.69,62.81 669.18,63.06 670.67,63.02 672.15,63.18 673.64,63.11 675.13,63.15 676.61,63.27 678.1,63" fill="none" stroke="#6cc3a3" stroke-width="1.25" stroke-linejoin="round" stroke-linecap="round" />
<circle cx="499.77" cy="66.09" r="1.45" fill="#6cc3a3"/>
<circle cx="506.75" cy="64.99" r="1.45" fill="#6cc3a3"/>
<circle cx="520.72" cy="78.15" r="1.45" fill="#6cc3a3"/>
<circle cx="527.71" cy="77.88" r="1.45" fill="#6cc3a3"/>
<circle cx="534.69" cy="62.44" r="1.45" fill="#6cc3a3"/>
<circle cx="541.68" cy="62.31" r="1.45" fill="#6cc3a3"/>
<circle cx="548.66" cy="80.76" r="1.45" fill="#6cc3a3"/>
<circle cx="555.65" cy="79.09" r="1.45" fill="#6cc3a3"/>
<circle cx="569.62" cy="63.07" r="1.45" fill="#6cc3a3"/>
<circle cx="576.61" cy="62.95" r="1.45" fill="#6cc3a3"/>
<circle cx="583.59" cy="77.92" r="1.45" fill="#6cc3a3"/>
<circle cx="590.58" cy="77.34" r="1.45" fill="#6cc3a3"/>
<circle cx="597.56" cy="62.93" r="1.45" fill="#6cc3a3"/>
<circle cx="604.55" cy="63.18" r="1.45" fill="#6cc3a3"/>
<circle cx="611.53" cy="62.96" r="1.45" fill="#6cc3a3"/>
<circle cx="618.52" cy="75.98" r="1.45" fill="#6cc3a3"/>
<circle cx="625.5" cy="75.72" r="1.45" fill="#6cc3a3"/>
<circle cx="632.49" cy="62.9" r="1.45" fill="#6cc3a3"/>
<circle cx="639.47" cy="63.28" r="1.45" fill="#6cc3a3"/>
<circle cx="646.46" cy="75.93" r="1.45" fill="#6cc3a3"/>
<circle cx="653.45" cy="75.93" r="1.45" fill="#6cc3a3"/>
<circle cx="660.43" cy="75.92" r="1.45" fill="#6cc3a3"/>
<circle cx="667.42" cy="62.82" r="1.45" fill="#6cc3a3"/>
<circle cx="674.4" cy="63.13" r="1.45" fill="#6cc3a3"/>
<polyline points="497.3,65.03 498.77,65 500.24,65.39 501.72,64.89 503.19,65.23 504.66,65.19 506.13,64.83 507.6,65.3 509.07,65.34 510.55,65.18 512.02,65.24 513.49,65.1 513.9,68.19 514.56,68.88 516.09,69.11 517.63,69.1 519.17,69.3 520.71,69.28 522.24,69.3 523.78,69.15 525.32,69.34 526.85,69.21 528.39,69.22 529.93,69.1 530.25,62.94 531.72,62.82 533.18,62.88 534.65,63.02 536.11,62.86 537.58,63.3 539.04,63.14 540.51,63.18 541.97,63.18 543.43,63.21 544.9,63.09 546.36,63.1 546.77,67.2 547.43,68.58 548.97,68.55 550.5,68.4 552.04,68.42 553.58,68.5 555.11,68.14 556.65,68.54 558.19,68.25 559.73,68.14 561.26,68.26 562.8,68.4 563.13,63.64 564.59,63.32 566.06,63.64 567.52,63.79 568.98,63.5 570.45,63.43 571.91,63.49 573.38,63.61 574.84,63.66 576.31,63.57 577.77,63.59 579.24,63.5 579.65,67.75 580.3,68.89 581.84,68.89 583.38,69.13 584.91,68.8 586.45,68.9 587.99,68.51 589.52,68.48 591.06,68.54 592.6,68.72 594.13,68.68 595.67,68.5 596,63.81 597.46,63.57 598.93,63.71 600.39,63.68 601.86,63.68 603.32,63.47 604.79,63.94 606.25,63.52 607.72,63.99 609.18,63.96 610.64,63.41 612.11,63.7 612.52,67.48 613.18,68.69 614.71,68.78 616.25,68.47 617.79,68.36 619.32,68.33 620.86,68.77 622.4,68.33 623.93,68.55 625.47,68.29 627.01,68.51 628.54,68.5 628.87,63.97 630.34,63.48 631.8,63.89 633.27,63.71 634.73,63.93 636.19,63.82 637.66,63.54 639.12,63.94 640.59,63.69 642.05,63.41 643.52,63.4 644.98,63.7 645.39,68 646.05,69.17 647.59,69.08 649.12,68.98 650.66,69.11 652.2,69.09 653.73,69.4 655.27,68.9 656.81,69.35 658.34,69.4 659.88,68.97 661.42,69.2 661.75,60.56 663.76,59.78 665.77,59.24 667.83,58.37 669.88,57.92 671.53,57.72 673.17,57.86 674.81,57.39 676.46,57.04 678.1,56.9" fill="none" stroke="#f5a04e" stroke-width="1.25" stroke-linejoin="round" stroke-linecap="round" />
<path d="M501.41,66.73 L503.08,63.83 L499.74,63.83Z" fill="#f5a04e"/>
<path d="M508.39,67.06 L510.06,64.16 L506.73,64.16Z" fill="#f5a04e"/>
<path d="M515.38,70.75 L517.05,67.85 L513.71,67.85Z" fill="#f5a04e"/>
<path d="M522.37,71.02 L524.03,68.12 L520.7,68.12Z" fill="#f5a04e"/>
<path d="M529.35,70.88 L531.02,67.98 L527.68,67.98Z" fill="#f5a04e"/>
<path d="M536.34,64.67 L538,61.77 L534.67,61.77Z" fill="#f5a04e"/>
<path d="M543.32,64.95 L544.99,62.05 L541.65,62.05Z" fill="#f5a04e"/>
<path d="M550.31,70.16 L551.97,67.26 L548.64,67.26Z" fill="#f5a04e"/>
<path d="M557.29,70.16 L558.96,67.26 L555.63,67.26Z" fill="#f5a04e"/>
<path d="M564.28,65.13 L565.95,62.23 L562.61,62.23Z" fill="#f5a04e"/>
<path d="M571.26,65.2 L572.93,62.3 L569.6,62.3Z" fill="#f5a04e"/>
<path d="M578.25,65.3 L579.92,62.4 L576.58,62.4Z" fill="#f5a04e"/>
<path d="M585.23,70.56 L586.9,67.66 L583.57,67.66Z" fill="#f5a04e"/>
<path d="M592.22,70.42 L593.89,67.52 L590.55,67.52Z" fill="#f5a04e"/>
<path d="M599.21,65.44 L600.87,62.54 L597.54,62.54Z" fill="#f5a04e"/>
<path d="M606.19,65.28 L607.86,62.38 L604.52,62.38Z" fill="#f5a04e"/>
<path d="M613.18,70.43 L614.84,67.53 L611.51,67.53Z" fill="#f5a04e"/>
<path d="M620.16,70.31 L621.83,67.41 L618.49,67.41Z" fill="#f5a04e"/>
<path d="M627.15,70.25 L628.81,67.35 L625.48,67.35Z" fill="#f5a04e"/>
<path d="M634.13,65.58 L635.8,62.68 L632.47,62.68Z" fill="#f5a04e"/>
<path d="M641.12,65.33 L642.79,62.43 L639.45,62.43Z" fill="#f5a04e"/>
<path d="M648.1,70.79 L649.77,67.89 L646.44,67.89Z" fill="#f5a04e"/>
<path d="M655.09,70.7 L656.76,67.8 L653.42,67.8Z" fill="#f5a04e"/>
<path d="M669.06,59.84 L670.73,56.94 L667.39,56.94Z" fill="#f5a04e"/>
<path d="M676.05,58.87 L677.71,55.97 L674.38,55.97Z" fill="#f5a04e"/>
<polyline points="497.3,69.65 499.35,68.44 501.41,67.18 503.46,66.57 505.52,66.43 507.11,65.83 508.71,66.06 510.3,65.36 511.9,65.16 513.49,65.1 513.9,74.01 514.97,79.98 516.82,79.51 518.67,79.32 520.11,78.77 521.54,78.22 522.98,77.59 524.42,77.29 526.26,76.64 528.09,75.7 529.93,75 530.25,67.25 531.88,66.62 533.51,66.94 535.14,66.59 536.76,66.64 538.39,66.4 539.99,66.05 541.58,65.78 543.17,66.3 544.77,65.64 546.36,65.8 546.77,71.98 547.43,74.19 548.91,73.96 550.39,74.07 551.87,74.03 553.35,73.33 554.83,73.41 556.42,72.96 558.02,72.94 559.61,72.63 561.2,72.27 562.8,72.3 563.13,65.76 564.59,65.7 566.06,66.1 567.52,65.73 568.98,65.44 570.45,65.83 571.91,65.8 573.38,65.33 574.84,65.02 576.31,64.97 577.77,64.8 579.24,65 579.65,70.89 580.3,72.71 581.78,72.62 583.26,72.43 584.74,72.45 586.22,72.47 587.7,72.17 589.29,71.66 590.89,71.38 592.48,71.18 594.08,70.79 595.67,70.6 596,64.29 597.46,64.09 598.93,64.24 600.39,64.73 601.86,64.14 603.32,64.4 604.79,64.49 606.25,64.65 607.72,64.2 609.18,64.24 610.64,64.22 612.11,64.4 612.52,68.93 613.18,70.56 614.66,70.86 616.13,70.72 617.61,70.68 619.09,70.03 620.57,69.97 622.17,70.37 623.76,70.42 625.36,70.04 626.95,70.04 628.54,69.9 628.87,64.05 630.34,64.32 631.8,64.7 633.27,64.63 634.73,64.65 636.19,64.73 637.66,64.22 639.12,64.13 640.59,64.16 642.05,64.42 643.52,64.53 644.98,64.4 645.39,69.81 646.05,71.46 647.59,71.4 649.12,71.49 650.66,71.27 652.2,71.34 653.73,70.98 655.27,71.5 656.81,71.11 658.34,71.59 659.88,71.4 661.42,71.3 661.75,63.56 663.23,63.44 664.72,63.53 666.21,63.8 667.69,63.84 669.18,63.43 670.67,63.4 672.15,63.72 673.64,63.76 675.13,63.62 676.61,63.51 678.1,63.7" fill="none" stroke="#2fa8e6" stroke-width="1.25" stroke-linejoin="round" stroke-linecap="round" />
<path d="M498.94,66.94 L500.61,69.84 L497.28,69.84Z" fill="#2fa8e6"/>
<path d="M505.93,64.54 L507.6,67.44 L504.26,67.44Z" fill="#2fa8e6"/>
<path d="M512.91,63.38 L514.58,66.28 L511.25,66.28Z" fill="#2fa8e6"/>
<path d="M519.9,77.11 L521.57,80.01 L518.23,80.01Z" fill="#2fa8e6"/>
<path d="M526.89,74.58 L528.55,77.48 L525.22,77.48Z" fill="#2fa8e6"/>
<path d="M533.87,65.12 L535.54,68.02 L532.2,68.02Z" fill="#2fa8e6"/>
<path d="M540.86,64.16 L542.52,67.06 L539.19,67.06Z" fill="#2fa8e6"/>
<path d="M547.84,72.39 L549.51,75.29 L546.17,75.29Z" fill="#2fa8e6"/>
<path d="M554.83,71.67 L556.49,74.57 L553.16,74.57Z" fill="#2fa8e6"/>
<path d="M561.81,70.54 L563.48,73.44 L560.15,73.44Z" fill="#2fa8e6"/>
<path d="M568.8,63.74 L570.47,66.64 L567.13,66.64Z" fill="#2fa8e6"/>
<path d="M575.78,63.25 L577.45,66.15 L574.12,66.15Z" fill="#2fa8e6"/>
<path d="M582.77,70.75 L584.44,73.65 L581.1,73.65Z" fill="#2fa8e6"/>
<path d="M589.75,69.84 L591.42,72.74 L588.09,72.74Z" fill="#2fa8e6"/>
<path d="M596.74,62.45 L598.41,65.35 L595.07,65.35Z" fill="#2fa8e6"/>
<path d="M603.73,62.69 L605.39,65.59 L602.06,65.59Z" fill="#2fa8e6"/>
<path d="M610.71,62.49 L612.38,65.39 L609.04,65.39Z" fill="#2fa8e6"/>
<path d="M617.7,68.9 L619.36,71.8 L616.03,71.8Z" fill="#2fa8e6"/>
<path d="M624.68,68.46 L626.35,71.36 L623.01,71.36Z" fill="#2fa8e6"/>
<path d="M631.67,62.92 L633.33,65.82 L630,65.82Z" fill="#2fa8e6"/>
<path d="M638.65,62.42 L640.32,65.32 L636.99,65.32Z" fill="#2fa8e6"/>
<path d="M652.62,69.5 L654.29,72.4 L650.96,72.4Z" fill="#2fa8e6"/>
<path d="M659.61,69.7 L661.28,72.6 L657.94,72.6Z" fill="#2fa8e6"/>
<path d="M666.59,62.07 L668.26,64.97 L664.93,64.97Z" fill="#2fa8e6"/>
<path d="M673.58,62.02 L675.25,64.92 L671.91,64.92Z" fill="#2fa8e6"/>
<polyline points="497.3,74.38 499.77,70.61 502.23,68.64 503.87,67.87 505.52,67.37 507.57,66.52 509.63,66.11 511.56,65.43 513.49,65.1 513.74,100 514.15,120.59 514.97,134.8 515.96,148.57 517.68,139.86 519.2,140.4 520.72,141.02 522.28,146.1 523.84,150.94 524.83,140 525.08,126.74 525.57,138.91 527,139.23 528.42,139.44 529.84,139.1 530.17,80 530.42,62.88 532.35,62.58 534.28,62.67 535.72,62.69 537.16,62.85 538.6,62.41 540.03,62.6 540.45,59.2 540.86,63.04 542.66,62.92 544.47,62.67 546.28,62.6 546.61,99.76 547.1,125.38 547.68,135.25 549.73,132.26 551.46,131.56 553.18,131.33 554.91,131.53 556.64,130.94 558.22,131.76 559.81,131.7 561.4,131.75 562.88,106.6 563.29,70 563.54,62.88 565.35,62.48 567.15,62.13 569.21,61.86 571.26,60.72 573.32,60.41 575.37,59.77 577.3,59.98 579.24,59.2 579.48,99.71 579.97,129.64 580.47,148.75 582.19,143.01 583.92,137.42 585.67,136.84 587.43,136.15 589.18,135.8 590.6,134.31 592.03,132.4 593.45,130.85 594.93,130.15 596.41,128.5 596.58,90 596.82,62.5 598.42,61.18 600.03,60.93 602.08,60.05 604.14,59.4 606.19,58.77 608.25,58.04 610.18,57.5 612.11,57.5 612.35,89.82 612.85,124.88 613.34,131.46 615.19,127.8 617.04,125.47 618.76,123.43 620.49,122.12 622.22,121.06 623.72,119.78 625.22,118.2 626.72,116.61 628.22,115.7 628.63,94.3 628.96,70 629.2,61.68 631.05,60.75 632.9,60.34 634.95,59 637.01,58.39 639.06,58.32 641.12,57.12 643.05,57.13 644.98,56.9 645.23,90.25 645.88,115.21 646.46,119.63 648.14,117.03 649.83,114.45 651.25,113.6 652.68,111.54 654.1,110.4 655.79,110.67 657.47,110.37 659.03,108.62 660.6,107.47 661.25,100.09 661.83,70 662.07,60.81 663.92,60.27 665.77,59.05 667.83,58.32 669.88,57.4 671.94,57.5 673.99,57.13 676.05,56.61 678.1,56.2" fill="none" stroke="#e8403a" stroke-width="1.3" stroke-linejoin="round" stroke-linecap="round" />
<rect x="496.67" y="71.67" width="2.9" height="2.9" fill="#e8403a" />
<rect x="503.66" y="66.04" width="2.9" height="2.9" fill="#e8403a" />
<rect x="510.64" y="63.89" width="2.9" height="2.9" fill="#e8403a" />
<rect x="517.63" y="138.9" width="2.9" height="2.9" fill="#e8403a" />
<rect x="524.61" y="137.57" width="2.9" height="2.9" fill="#e8403a" />
<rect x="531.6" y="61.16" width="2.9" height="2.9" fill="#e8403a" />
<rect x="538.58" y="61.15" width="2.9" height="2.9" fill="#e8403a" />
<rect x="552.56" y="129.98" width="2.9" height="2.9" fill="#e8403a" />
<rect x="559.54" y="130.29" width="2.9" height="2.9" fill="#e8403a" />
<rect x="566.53" y="60.57" width="2.9" height="2.9" fill="#e8403a" />
<rect x="573.51" y="58.45" width="2.9" height="2.9" fill="#e8403a" />
<rect x="580.5" y="142.38" width="2.9" height="2.9" fill="#e8403a" />
<rect x="587.48" y="134.4" width="2.9" height="2.9" fill="#e8403a" />
<rect x="601.45" y="58.34" width="2.9" height="2.9" fill="#e8403a" />
<rect x="608.44" y="56.13" width="2.9" height="2.9" fill="#e8403a" />
<rect x="615.42" y="124.23" width="2.9" height="2.9" fill="#e8403a" />
<rect x="622.41" y="118.18" width="2.9" height="2.9" fill="#e8403a" />
<rect x="629.4" y="59.4" width="2.9" height="2.9" fill="#e8403a" />
<rect x="636.38" y="56.91" width="2.9" height="2.9" fill="#e8403a" />
<rect x="650.35" y="111.36" width="2.9" height="2.9" fill="#e8403a" />
<rect x="657.34" y="107.44" width="2.9" height="2.9" fill="#e8403a" />
<rect x="664.32" y="57.6" width="2.9" height="2.9" fill="#e8403a" />
<rect x="671.31" y="55.91" width="2.9" height="2.9" fill="#e8403a" />
<rect x="561.51" y="105.15" width="2.9" height="2.9" fill="#e8403a" />
<rect x="627.26" y="92.85" width="2.9" height="2.9" fill="#e8403a" />
<polyline points="497.3,64.72 498.77,64.26 500.24,64.37 501.72,64.49 503.19,64.73 504.66,64.73 506.13,64.44 507.6,64.38 509.07,64.46 510.55,64.5 512.02,64.71 513.49,64.5 513.65,80.9 513.9,66.94 515.36,67.25 516.81,67.22 518.27,67.26 519.73,67.24 521.19,67.15 522.64,67.01 524.1,67.01 525.56,67.03 527.01,67.24 528.47,66.89 529.93,67.1 530.09,59.9 530.34,64.95 531.79,65.23 533.25,64.97 534.71,64.88 536.16,64.87 537.62,65.13 539.08,65.01 540.54,65.34 541.99,65.29 543.45,65.34 544.91,64.98 546.36,65.1 546.53,82.2 546.77,66.89 548.23,66.9 549.69,67.1 551.14,67.2 552.6,67.07 554.06,66.97 555.51,67.06 556.97,67.16 558.43,67.19 559.89,67.22 561.34,67.27 562.8,67.1 562.96,62 563.21,65.88 564.67,65.61 566.12,65.97 567.58,65.7 569.04,65.83 570.49,65.74 571.95,65.92 573.41,65.65 574.86,65.67 576.32,65.67 577.78,65.63 579.24,65.8 579.4,90.7 579.65,66.59 581.1,66.44 582.56,66.31 584.02,66.35 585.47,66.65 586.93,66.4 588.39,66.27 589.84,66.55 591.3,66.48 592.76,66.65 594.21,66.2 595.67,66.4 595.84,83 596.08,65.09 597.54,65.26 599,65.27 600.45,65.31 601.91,64.87 603.37,65 604.82,64.91 606.28,64.94 607.74,65.34 609.19,65.14 610.65,65.32 612.11,65.1 612.27,83 612.52,67.04 613.98,67.28 615.43,67.07 616.89,66.98 618.35,67.24 619.8,67.32 621.26,66.9 622.72,67.15 624.17,67.16 625.63,66.96 627.09,67.03 628.54,67.1 628.71,80 628.96,64.92 630.41,64.95 631.87,64.98 633.33,65.15 634.78,65.18 636.24,64.95 637.7,64.86 639.15,65.01 640.61,65.19 642.07,64.94 643.52,65.01 644.98,65.1 645.15,78.8 645.39,66.95 646.85,67.25 648.31,67.12 649.76,66.88 651.22,66.9 652.68,67.05 654.13,67.13 655.59,67.17 657.05,66.9 658.5,66.93 659.96,67.2 661.42,67.1 661.58,60 661.83,65.05 663.31,64.99 664.79,65 666.27,65.33 667.75,65.01 669.22,65.13 670.7,65.03 672.18,65.06 673.66,65.28 675.14,65.35 676.62,65.03 678.1,65.1" fill="none" stroke="#1f3c96" stroke-width="1.4" stroke-linejoin="round" stroke-linecap="round" />
<path d="M500.18,62.28 L501.94,64.36 L500.18,66.44 L498.42,64.36Z" fill="#1f3c96"/>
<path d="M507.16,62.32 L508.92,64.4 L507.16,66.48 L505.4,64.4Z" fill="#1f3c96"/>
<path d="M521.13,65.08 L522.89,67.16 L521.13,69.24 L519.37,67.16Z" fill="#1f3c96"/>
<path d="M528.12,64.89 L529.88,66.97 L528.12,69.05 L526.36,66.97Z" fill="#1f3c96"/>
<path d="M535.1,62.8 L536.86,64.88 L535.1,66.96 L533.34,64.88Z" fill="#1f3c96"/>
<path d="M542.09,63.22 L543.85,65.3 L542.09,67.38 L540.33,65.3Z" fill="#1f3c96"/>
<path d="M549.07,64.93 L550.83,67.01 L549.07,69.09 L547.31,67.01Z" fill="#1f3c96"/>
<path d="M556.06,65.02 L557.82,67.1 L556.06,69.18 L554.3,67.1Z" fill="#1f3c96"/>
<path d="M570.03,63.69 L571.79,65.77 L570.03,67.85 L568.27,65.77Z" fill="#1f3c96"/>
<path d="M577.02,63.57 L578.78,65.65 L577.02,67.73 L575.26,65.65Z" fill="#1f3c96"/>
<path d="M584,64.27 L585.76,66.35 L584,68.43 L582.24,66.35Z" fill="#1f3c96"/>
<path d="M590.99,64.41 L592.75,66.49 L590.99,68.57 L589.23,66.49Z" fill="#1f3c96"/>
<path d="M597.97,63.18 L599.73,65.26 L597.97,67.34 L596.21,65.26Z" fill="#1f3c96"/>
<path d="M604.96,62.83 L606.72,64.91 L604.96,66.99 L603.2,64.91Z" fill="#1f3c96"/>
<path d="M618.93,65.19 L620.69,67.27 L618.93,69.35 L617.17,67.27Z" fill="#1f3c96"/>
<path d="M625.91,64.89 L627.67,66.97 L625.91,69.05 L624.15,66.97Z" fill="#1f3c96"/>
<path d="M632.9,63.02 L634.66,65.1 L632.9,67.18 L631.14,65.1Z" fill="#1f3c96"/>
<path d="M639.89,63.02 L641.65,65.1 L639.89,67.18 L638.13,65.1Z" fill="#1f3c96"/>
<path d="M646.87,65.17 L648.63,67.25 L646.87,69.33 L645.11,67.25Z" fill="#1f3c96"/>
<path d="M653.86,65.03 L655.62,67.11 L653.86,69.19 L652.1,67.11Z" fill="#1f3c96"/>
<path d="M660.84,65.06 L662.6,67.14 L660.84,69.22 L659.08,67.14Z" fill="#1f3c96"/>
<path d="M667.83,62.93 L669.59,65.01 L667.83,67.09 L666.07,65.01Z" fill="#1f3c96"/>
<path d="M674.81,63.25 L676.57,65.33 L674.81,67.41 L673.05,65.33Z" fill="#1f3c96"/>
<path d="M530.09,57.82 L531.85,59.9 L530.09,61.98 L528.33,59.9Z" fill="#1f3c96"/>
<line x1="499.9" y1="12" x2="517" y2="12" stroke="#e8403a" stroke-width="1.2" />
<rect x="507.1" y="10.5" width="3" height="3" fill="#e8403a" />
<text transform="translate(520,14.75) scale(1,1.08)" x="0" y="0" font-size="7.4" text-anchor="start" font-weight="bold" fill="#111" stroke="#111" stroke-width="0.2" >TP-BT-0F-COF-L+U</text>
<line x1="499.9" y1="21.6" x2="517" y2="21.6" stroke="#6cc3a3" stroke-width="1.2" />
<circle cx="508.6" cy="21.6" r="1.5" fill="#6cc3a3"/>
<text transform="translate(520,24.35) scale(1,1.08)" x="0" y="0" font-size="7.4" text-anchor="start" font-weight="bold" fill="#111" stroke="#111" stroke-width="0.2" >BTA-BT-0F-COF-L+U</text>
<line x1="499.9" y1="31.2" x2="517" y2="31.2" stroke="#2fa8e6" stroke-width="1.2" />
<path d="M508.6,29.4 L510.33,32.4 L506.88,32.4Z" fill="#2fa8e6"/>
<text transform="translate(520,33.95) scale(1,1.08)" x="0" y="0" font-size="7.4" text-anchor="start" font-weight="bold" fill="#111" stroke="#111" stroke-width="0.2" >TP-BT-1F-COF-L+U</text>
<line x1="499.9" y1="40.8" x2="517" y2="40.8" stroke="#f5a04e" stroke-width="1.2" />
<path d="M508.6,42.6 L510.33,39.6 L506.88,39.6Z" fill="#f5a04e"/>
<text transform="translate(520,43.55) scale(1,1.08)" x="0" y="0" font-size="7.4" text-anchor="start" font-weight="bold" fill="#111" stroke="#111" stroke-width="0.2" >TP-BT-2F-COF-L+U</text>
<line x1="499.9" y1="50.4" x2="517" y2="50.4" stroke="#1f3c96" stroke-width="1.2" />
<path d="M508.6,48.45 L510.25,50.4 L508.6,52.35 L506.95,50.4Z" fill="#1f3c96"/>
<text transform="translate(520,53.15) scale(1,1.08)" x="0" y="0" font-size="7.4" text-anchor="start" font-weight="bold" fill="#111" stroke="#111" stroke-width="0.2" >TP-SB-COF-L+U</text>
<text transform="translate(13.9,194.7) scale(1,1.06)" x="0" y="0" font-size="10.9" text-anchor="start" font-weight="bold" fill="#111" stroke="#111" stroke-width="0.2" >(D)</text>
<rect x="34.6" y="194.7" width="181" height="146.55" fill="none" stroke="#1a1a1a" stroke-width="1.15"/>
<line x1="34.6" y1="341.25" x2="34.6" y2="343.55" stroke="#1a1a1a" stroke-width="0.9" />
<text transform="translate(34.6,351.8) scale(1,1.12)" x="0" y="0" font-size="8.05" text-anchor="middle" font-weight="bold" fill="#111" stroke="#111" stroke-width="0.2" >0.0</text>
<line x1="50.78" y1="341.25" x2="50.78" y2="342.55" stroke="#1a1a1a" stroke-width="0.9" />
<line x1="66.95" y1="341.25" x2="66.95" y2="343.55" stroke="#1a1a1a" stroke-width="0.9" />
<text transform="translate(66.95,351.8) scale(1,1.12)" x="0" y="0" font-size="8.05" text-anchor="middle" font-weight="bold" fill="#111" stroke="#111" stroke-width="0.2" >5.0k</text>
<line x1="83.12" y1="341.25" x2="83.12" y2="342.55" stroke="#1a1a1a" stroke-width="0.9" />
<line x1="99.3" y1="341.25" x2="99.3" y2="343.55" stroke="#1a1a1a" stroke-width="0.9" />
<text transform="translate(99.3,351.8) scale(1,1.12)" x="0" y="0" font-size="8.05" text-anchor="middle" font-weight="bold" fill="#111" stroke="#111" stroke-width="0.2" >10.0k</text>
<line x1="115.47" y1="341.25" x2="115.47" y2="342.55" stroke="#1a1a1a" stroke-width="0.9" />
<line x1="131.65" y1="341.25" x2="131.65" y2="343.55" stroke="#1a1a1a" stroke-width="0.9" />
<text transform="translate(131.65,351.8) scale(1,1.12)" x="0" y="0" font-size="8.05" text-anchor="middle" font-weight="bold" fill="#111" stroke="#111" stroke-width="0.2" >15.0k</text>
<line x1="147.83" y1="341.25" x2="147.83" y2="342.55" stroke="#1a1a1a" stroke-width="0.9" />
<line x1="164" y1="341.25" x2="164" y2="343.55" stroke="#1a1a1a" stroke-width="0.9" />
<text transform="translate(164,351.8) scale(1,1.12)" x="0" y="0" font-size="8.05" text-anchor="middle" font-weight="bold" fill="#111" stroke="#111" stroke-width="0.2" >20.0k</text>
<line x1="180.18" y1="341.25" x2="180.18" y2="342.55" stroke="#1a1a1a" stroke-width="0.9" />
<line x1="196.35" y1="341.25" x2="196.35" y2="343.55" stroke="#1a1a1a" stroke-width="0.9" />
<text transform="translate(196.35,351.8) scale(1,1.12)" x="0" y="0" font-size="8.05" text-anchor="middle" font-weight="bold" fill="#111" stroke="#111" stroke-width="0.2" >25.0k</text>
<line x1="212.53" y1="341.25" x2="212.53" y2="342.55" stroke="#1a1a1a" stroke-width="0.9" />
<line x1="32" y1="341.25" x2="34.6" y2="341.25" stroke="#1a1a1a" stroke-width="0.9" />
<text transform="translate(30.2,344) scale(1,1.12)" x="0" y="0" font-size="8.05" text-anchor="end" font-weight="bold" fill="#111" stroke="#111" stroke-width="0.2" >0.0</text>
<line x1="33.2" y1="324.5" x2="34.6" y2="324.5" stroke="#1a1a1a" stroke-width="0.9" />
<line x1="32" y1="307.75" x2="34.6" y2="307.75" stroke="#1a1a1a" stroke-width="0.9" />
<text transform="translate(30.2,310.5) scale(1,1.12)" x="0" y="0" font-size="8.05" text-anchor="end" font-weight="bold" fill="#111" stroke="#111" stroke-width="0.2" >5.0k</text>
<line x1="33.2" y1="291" x2="34.6" y2="291" stroke="#1a1a1a" stroke-width="0.9" />
<line x1="32" y1="274.25" x2="34.6" y2="274.25" stroke="#1a1a1a" stroke-width="0.9" />
<text transform="translate(30.2,277) scale(1,1.12)" x="0" y="0" font-size="8.05" text-anchor="end" font-weight="bold" fill="#111" stroke="#111" stroke-width="0.2" >10.0k</text>
<line x1="33.2" y1="257.5" x2="34.6" y2="257.5" stroke="#1a1a1a" stroke-width="0.9" />
<line x1="32" y1="240.75" x2="34.6" y2="240.75" stroke="#1a1a1a" stroke-width="0.9" />
<text transform="translate(30.2,243.5) scale(1,1.12)" x="0" y="0" font-size="8.05" text-anchor="end" font-weight="bold" fill="#111" stroke="#111" stroke-width="0.2" >15.0k</text>
<line x1="33.2" y1="224" x2="34.6" y2="224" stroke="#1a1a1a" stroke-width="0.9" />
<line x1="32" y1="207.25" x2="34.6" y2="207.25" stroke="#1a1a1a" stroke-width="0.9" />
<text transform="translate(30.2,210) scale(1,1.12)" x="0" y="0" font-size="8.05" text-anchor="end" font-weight="bold" fill="#111" stroke="#111" stroke-width="0.2" >20.0k</text>
<text x="125.1" y="364.5" font-size="8.6" text-anchor="middle" font-weight="bold" fill="#111" stroke="#111" stroke-width="0.2" >Z' (ohm)</text>
<text transform="translate(8,268) rotate(-90)" x="0" y="0" font-size="8.6" text-anchor="middle" font-weight="bold" fill="#111" stroke="#111" stroke-width="0.2">-Z'' (ohm)</text>
<rect x="33.6" y="339.8" width="2.4" height="2.4" fill="#e8403a" />
<rect x="34.02" y="338.66" width="2.45" height="2.45" fill="#e8403a" />
<rect x="34.4" y="337.51" width="2.5" height="2.5" fill="#e8403a" />
<rect x="34.74" y="336.34" width="2.54" height="2.54" fill="#e8403a" />
<rect x="35.09" y="335.18" width="2.59" height="2.59" fill="#e8403a" />
<rect x="35.47" y="334.02" width="2.64" height="2.64" fill="#e8403a" />
<rect x="35.92" y="332.9" width="2.69" height="2.69" fill="#e8403a" />
<rect x="36.43" y="331.8" width="2.74" height="2.74" fill="#e8403a" />
<rect x="36.99" y="330.73" width="2.78" height="2.78" fill="#e8403a" />
<rect x="37.64" y="329.71" width="2.83" height="2.83" fill="#e8403a" />
<rect x="38.41" y="328.79" width="2.88" height="2.88" fill="#e8403a" />
<rect x="39.3" y="327.99" width="2.93" height="2.93" fill="#e8403a" />
<rect x="40.28" y="327.31" width="2.98" height="2.98" fill="#e8403a" />
<rect x="41.32" y="326.72" width="3.02" height="3.02" fill="#e8403a" />
<rect x="42.39" y="326.21" width="3.07" height="3.07" fill="#e8403a" />
<rect x="43.5" y="325.81" width="3.12" height="3.12" fill="#e8403a" />
<rect x="44.65" y="325.54" width="3.17" height="3.17" fill="#e8403a" />
<rect x="45.83" y="325.47" width="3.22" height="3.22" fill="#e8403a" />
<rect x="46.99" y="325.59" width="3.26" height="3.26" fill="#e8403a" />
<rect x="48.14" y="325.82" width="3.31" height="3.31" fill="#e8403a" />
<rect x="49.28" y="326.11" width="3.36" height="3.36" fill="#e8403a" />
<rect x="50.38" y="326.48" width="3.41" height="3.41" fill="#e8403a" />
<rect x="51.46" y="326.93" width="3.46" height="3.46" fill="#e8403a" />
<rect x="52.52" y="327.43" width="3.51" height="3.51" fill="#e8403a" />
<rect x="53.55" y="327.97" width="3.55" height="3.55" fill="#e8403a" />
<rect x="54.57" y="328.55" width="3.6" height="3.6" fill="#e8403a" />
<rect x="55.54" y="329.19" width="3.65" height="3.65" fill="#e8403a" />
<rect x="56.45" y="329.92" width="3.7" height="3.7" fill="#e8403a" />
<rect x="57.26" y="330.75" width="3.75" height="3.75" fill="#e8403a" />
<rect x="57.99" y="331.67" width="3.79" height="3.79" fill="#e8403a" />
<rect x="58.65" y="332.63" width="3.84" height="3.84" fill="#e8403a" />
<rect x="59.21" y="333.65" width="3.89" height="3.89" fill="#e8403a" />
<rect x="59.7" y="334.71" width="3.94" height="3.94" fill="#e8403a" />
<rect x="60.16" y="335.78" width="3.99" height="3.99" fill="#e8403a" />
<circle cx="34.8" cy="341" r="1.3" fill="#6cc3a3"/>
<circle cx="35.08" cy="339.83" r="1.32" fill="#6cc3a3"/>
<circle cx="35.41" cy="338.68" r="1.33" fill="#6cc3a3"/>
<circle cx="35.77" cy="337.54" r="1.35" fill="#6cc3a3"/>
<circle cx="36.12" cy="336.39" r="1.36" fill="#6cc3a3"/>
<circle cx="36.48" cy="335.24" r="1.38" fill="#6cc3a3"/>
<circle cx="36.86" cy="334.1" r="1.39" fill="#6cc3a3"/>
<circle cx="37.27" cy="332.98" r="1.41" fill="#6cc3a3"/>
<circle cx="37.73" cy="331.87" r="1.42" fill="#6cc3a3"/>
<circle cx="38.28" cy="330.8" r="1.44" fill="#6cc3a3"/>
<circle cx="38.92" cy="329.79" r="1.45" fill="#6cc3a3"/>
<circle cx="39.67" cy="328.85" r="1.47" fill="#6cc3a3"/>
<circle cx="40.52" cy="328.01" r="1.48" fill="#6cc3a3"/>
<circle cx="41.46" cy="327.26" r="1.5" fill="#6cc3a3"/>
<circle cx="42.47" cy="326.62" r="1.52" fill="#6cc3a3"/>
<circle cx="43.54" cy="326.08" r="1.53" fill="#6cc3a3"/>
<circle cx="44.65" cy="325.62" r="1.55" fill="#6cc3a3"/>
<circle cx="45.79" cy="325.24" r="1.56" fill="#6cc3a3"/>
<circle cx="46.95" cy="324.94" r="1.58" fill="#6cc3a3"/>
<circle cx="48.13" cy="324.71" r="1.59" fill="#6cc3a3"/>
<circle cx="49.32" cy="324.56" r="1.61" fill="#6cc3a3"/>
<circle cx="50.52" cy="324.5" r="1.62" fill="#6cc3a3"/>
<circle cx="51.71" cy="324.54" r="1.64" fill="#6cc3a3"/>
<circle cx="52.9" cy="324.7" r="1.65" fill="#6cc3a3"/>
<circle cx="54.08" cy="324.94" r="1.67" fill="#6cc3a3"/>
<circle cx="55.24" cy="325.23" r="1.69" fill="#6cc3a3"/>
<circle cx="56.39" cy="325.57" r="1.7" fill="#6cc3a3"/>
<circle cx="57.53" cy="325.94" r="1.72" fill="#6cc3a3"/>
<circle cx="58.65" cy="326.37" r="1.73" fill="#6cc3a3"/>
<circle cx="59.75" cy="326.87" r="1.75" fill="#6cc3a3"/>
<circle cx="60.81" cy="327.43" r="1.76" fill="#6cc3a3"/>
<circle cx="61.83" cy="328.06" r="1.78" fill="#6cc3a3"/>
<circle cx="62.8" cy="328.76" r="1.79" fill="#6cc3a3"/>
<circle cx="63.73" cy="329.52" r="1.81" fill="#6cc3a3"/>
<circle cx="64.62" cy="330.33" r="1.82" fill="#6cc3a3"/>
<circle cx="65.46" cy="331.19" r="1.84" fill="#6cc3a3"/>
<circle cx="66.23" cy="332.1" r="1.85" fill="#6cc3a3"/>
<circle cx="66.98" cy="333.04" r="1.87" fill="#6cc3a3"/>
<circle cx="67.71" cy="334" r="1.89" fill="#6cc3a3"/>
<path d="M34.8,339.68 L36.06,341.88 L33.53,341.88Z" fill="#2fa8e6"/>
<path d="M35.2,338.54 L36.48,340.76 L33.92,340.76Z" fill="#2fa8e6"/>
<path d="M35.57,337.38 L36.86,339.63 L34.28,339.63Z" fill="#2fa8e6"/>
<path d="M35.88,336.21 L37.19,338.48 L34.58,338.48Z" fill="#2fa8e6"/>
<path d="M36.14,335.02 L37.46,337.31 L34.82,337.31Z" fill="#2fa8e6"/>
<path d="M36.38,333.83 L37.7,336.14 L35.05,336.14Z" fill="#2fa8e6"/>
<path d="M36.6,332.64 L37.94,334.98 L35.26,334.98Z" fill="#2fa8e6"/>
<path d="M36.83,331.45 L38.19,333.81 L35.48,333.81Z" fill="#2fa8e6"/>
<path d="M37.07,330.26 L38.44,332.64 L35.7,332.64Z" fill="#2fa8e6"/>
<path d="M37.33,329.08 L38.71,331.48 L35.95,331.48Z" fill="#2fa8e6"/>
<path d="M37.65,327.9 L39.04,330.33 L36.25,330.33Z" fill="#2fa8e6"/>
<path d="M38.04,326.76 L39.44,329.2 L36.63,329.2Z" fill="#2fa8e6"/>
<path d="M38.53,325.65 L39.95,328.12 L37.11,328.12Z" fill="#2fa8e6"/>
<path d="M39.13,324.6 L40.56,327.09 L37.69,327.09Z" fill="#2fa8e6"/>
<path d="M39.77,323.57 L41.22,326.09 L38.33,326.09Z" fill="#2fa8e6"/>
<path d="M40.5,322.61 L41.96,325.14 L39.04,325.14Z" fill="#2fa8e6"/>
<path d="M41.36,321.75 L42.83,324.31 L39.89,324.31Z" fill="#2fa8e6"/>
<path d="M42.27,320.96 L43.75,323.54 L40.79,323.54Z" fill="#2fa8e6"/>
<path d="M43.21,320.2 L44.7,322.8 L41.71,322.8Z" fill="#2fa8e6"/>
<path d="M44.16,319.46 L45.67,322.08 L42.65,322.08Z" fill="#2fa8e6"/>
<path d="M45.14,318.75 L46.66,321.4 L43.62,321.4Z" fill="#2fa8e6"/>
<path d="M46.14,318.08 L47.68,320.75 L44.61,320.75Z" fill="#2fa8e6"/>
<path d="M47.19,317.48 L48.74,320.18 L45.65,320.18Z" fill="#2fa8e6"/>
<path d="M48.29,316.98 L49.85,319.69 L46.73,319.69Z" fill="#2fa8e6"/>
<path d="M49.41,316.54 L50.98,319.28 L47.84,319.28Z" fill="#2fa8e6"/>
<path d="M50.55,316.16 L52.14,318.92 L48.97,318.92Z" fill="#2fa8e6"/>
<path d="M51.7,315.79 L53.3,318.58 L50.1,318.58Z" fill="#2fa8e6"/>
<path d="M52.84,315.42 L54.46,318.23 L51.23,318.23Z" fill="#2fa8e6"/>
<path d="M53.99,315.07 L55.62,317.89 L52.37,317.89Z" fill="#2fa8e6"/>
<path d="M55.15,314.73 L56.79,317.58 L53.51,317.58Z" fill="#2fa8e6"/>
<path d="M56.31,314.42 L57.96,317.29 L54.66,317.29Z" fill="#2fa8e6"/>
<path d="M57.48,314.14 L59.14,317.03 L55.82,317.03Z" fill="#2fa8e6"/>
<path d="M58.65,313.87 L60.33,316.78 L56.98,316.78Z" fill="#2fa8e6"/>
<path d="M59.83,313.6 L61.52,316.54 L58.14,316.54Z" fill="#2fa8e6"/>
<path d="M61.01,313.36 L62.71,316.32 L59.3,316.32Z" fill="#2fa8e6"/>
<path d="M62.19,313.14 L63.9,316.13 L60.47,316.13Z" fill="#2fa8e6"/>
<path d="M63.38,312.98 L65.11,315.98 L61.65,315.98Z" fill="#2fa8e6"/>
<path d="M64.58,312.88 L66.32,315.91 L62.83,315.91Z" fill="#2fa8e6"/>
<path d="M65.77,312.87 L67.53,315.92 L64.02,315.92Z" fill="#2fa8e6"/>
<path d="M66.97,312.93 L68.74,316 L65.21,316Z" fill="#2fa8e6"/>
<path d="M68.16,313.07 L69.94,316.16 L66.38,316.16Z" fill="#2fa8e6"/>
<path d="M69.34,313.28 L71.13,316.4 L67.55,316.4Z" fill="#2fa8e6"/>
<path d="M70.51,313.55 L72.31,316.68 L68.7,316.68Z" fill="#2fa8e6"/>
<path d="M71.66,313.85 L73.48,317.01 L69.85,317.01Z" fill="#2fa8e6"/>
<path d="M72.81,314.2 L74.64,317.38 L70.98,317.38Z" fill="#2fa8e6"/>
<path d="M73.94,314.59 L75.78,317.79 L72.1,317.79Z" fill="#2fa8e6"/>
<path d="M75.06,315.02 L76.91,318.25 L73.2,318.25Z" fill="#2fa8e6"/>
<path d="M76.15,315.49 L78.02,318.74 L74.28,318.74Z" fill="#2fa8e6"/>
<path d="M77.23,316.01 L79.11,319.28 L75.35,319.28Z" fill="#2fa8e6"/>
<path d="M78.28,316.58 L80.17,319.87 L76.38,319.87Z" fill="#2fa8e6"/>
<path d="M79.3,317.19 L81.21,320.51 L77.39,320.51Z" fill="#2fa8e6"/>
<path d="M80.31,317.83 L82.23,321.17 L78.39,321.17Z" fill="#2fa8e6"/>
<path d="M81.29,318.5 L83.23,321.86 L79.36,321.86Z" fill="#2fa8e6"/>
<path d="M82.27,319.19 L84.21,322.57 L80.32,322.57Z" fill="#2fa8e6"/>
<path d="M83.23,319.88 L85.19,323.29 L81.28,323.29Z" fill="#2fa8e6"/>
<path d="M84.19,320.6 L86.16,324.03 L82.22,324.03Z" fill="#2fa8e6"/>
<path d="M85.12,321.34 L87.11,324.79 L83.14,324.79Z" fill="#2fa8e6"/>
<path d="M86.03,322.11 L88.03,325.58 L84.04,325.58Z" fill="#2fa8e6"/>
<path d="M86.93,322.88 L88.94,326.38 L84.92,326.38Z" fill="#2fa8e6"/>
<path d="M87.83,323.67 L89.85,327.19 L85.81,327.19Z" fill="#2fa8e6"/>
<path d="M88.73,324.45 L90.77,327.99 L86.7,327.99Z" fill="#2fa8e6"/>
<path d="M89.64,325.22 L91.69,328.78 L87.59,328.78Z" fill="#2fa8e6"/>
<path d="M90.54,326 L92.6,329.58 L88.48,329.58Z" fill="#2fa8e6"/>
<path d="M91.44,326.78 L93.52,330.39 L89.37,330.39Z" fill="#2fa8e6"/>
<path d="M92.35,327.55 L94.44,331.18 L90.27,331.18Z" fill="#2fa8e6"/>
<path d="M93.29,328.28 L95.39,331.93 L91.19,331.93Z" fill="#2fa8e6"/>
<path d="M94.29,328.92 L96.41,332.6 L92.18,332.6Z" fill="#2fa8e6"/>
<path d="M95.39,329.39 L97.52,333.09 L93.26,333.09Z" fill="#2fa8e6"/>
<path d="M96.49,329.86 L98.63,333.58 L94.35,333.58Z" fill="#2fa8e6"/>
<path d="M97.52,330.47 L99.67,334.21 L95.36,334.21Z" fill="#2fa8e6"/>
<path d="M98.51,331.13 L100.67,334.89 L96.34,334.89Z" fill="#2fa8e6"/>
<path d="M99.49,331.8 L101.67,335.59 L97.31,335.59Z" fill="#2fa8e6"/>
<path d="M35.2,339.54 L37.16,336.14 L33.25,336.14Z" fill="#f5a04e"/>
<path d="M35.44,336.55 L37.39,333.15 L33.48,333.15Z" fill="#f5a04e"/>
<path d="M36.15,333.64 L38.1,330.24 L34.19,330.24Z" fill="#f5a04e"/>
<path d="M37.35,330.9 L39.31,327.5 L35.4,327.5Z" fill="#f5a04e"/>
<path d="M38.93,328.35 L40.89,324.95 L36.98,324.95Z" fill="#f5a04e"/>
<path d="M40.51,325.8 L42.47,322.4 L38.56,322.4Z" fill="#f5a04e"/>
<path d="M42.69,323.76 L44.65,320.36 L40.74,320.36Z" fill="#f5a04e"/>
<path d="M45.18,322.09 L47.14,318.69 L43.23,318.69Z" fill="#f5a04e"/>
<path d="M47.61,320.33 L49.57,316.93 L45.66,316.93Z" fill="#f5a04e"/>
<path d="M50.04,318.57 L52,315.17 L48.09,315.17Z" fill="#f5a04e"/>
<path d="M52.48,316.82 L54.43,313.42 L50.52,313.42Z" fill="#f5a04e"/>
<path d="M54.91,315.06 L56.86,311.66 L52.95,311.66Z" fill="#f5a04e"/>
<path d="M57.28,313.23 L59.24,309.83 L55.33,309.83Z" fill="#f5a04e"/>
<path d="M59.62,311.35 L61.58,307.95 L57.67,307.95Z" fill="#f5a04e"/>
<path d="M65.5,307.56 L67.57,303.96 L63.43,303.96Z" fill="#f5a04e"/>
<path d="M71,304.96 L73.07,301.36 L68.93,301.36Z" fill="#f5a04e"/>
<path d="M77,303.06 L79.07,299.46 L74.93,299.46Z" fill="#f5a04e"/>
<path d="M83.5,301.86 L85.57,298.26 L81.43,298.26Z" fill="#f5a04e"/>
<path d="M89.5,301.36 L91.57,297.76 L87.43,297.76Z" fill="#f5a04e"/>
<path d="M94.5,301.06 L96.57,297.46 L92.43,297.46Z" fill="#f5a04e"/>
<path d="M100.5,301.86 L102.57,298.26 L98.43,298.26Z" fill="#f5a04e"/>
<path d="M107,303.46 L109.07,299.86 L104.93,299.86Z" fill="#f5a04e"/>
<path d="M113.2,306.06 L115.27,302.46 L111.13,302.46Z" fill="#f5a04e"/>
<path d="M120.2,309.26 L122.27,305.66 L118.13,305.66Z" fill="#f5a04e"/>
<path d="M124.8,313.46 L126.87,309.86 L122.73,309.86Z" fill="#f5a04e"/>
<path d="M126.8,317.36 L128.87,313.76 L124.73,313.76Z" fill="#f5a04e"/>
<path d="M128.4,321.26 L130.47,317.66 L126.33,317.66Z" fill="#f5a04e"/>
<path d="M129.9,324.76 L131.97,321.16 L127.83,321.16Z" fill="#f5a04e"/>
<path d="M131,328.16 L133.07,324.56 L128.93,324.56Z" fill="#f5a04e"/>
<path d="M131.8,331.26 L133.87,327.66 L129.73,327.66Z" fill="#f5a04e"/>
<path d="M35.5,336.73 L37.42,339 L35.5,341.27 L33.58,339Z" fill="#1f3c96"/>
<path d="M35.6,333.73 L37.52,336 L35.6,338.27 L33.68,336Z" fill="#1f3c96"/>
<path d="M35.9,329.98 L37.82,332.25 L35.9,334.52 L33.98,332.25Z" fill="#1f3c96"/>
<path d="M36.25,326.23 L38.17,328.5 L36.25,330.77 L34.33,328.5Z" fill="#1f3c96"/>
<path d="M36.9,323.12 L38.82,325.4 L36.9,327.67 L34.98,325.4Z" fill="#1f3c96"/>
<path d="M37.75,319.98 L39.67,322.25 L37.75,324.52 L35.83,322.25Z" fill="#1f3c96"/>
<path d="M38.75,316.83 L40.67,319.1 L38.75,321.38 L36.83,319.1Z" fill="#1f3c96"/>
<path d="M40,313.73 L41.92,316 L40,318.27 L38.08,316Z" fill="#1f3c96"/>
<path d="M41.9,309.33 L43.82,311.6 L41.9,313.88 L39.98,311.6Z" fill="#1f3c96"/>
<path d="M44.75,304.33 L46.67,306.6 L44.75,308.88 L42.83,306.6Z" fill="#1f3c96"/>
<path d="M47.3,298.23 L49.22,300.5 L47.3,302.77 L45.38,300.5Z" fill="#1f3c96"/>
<path d="M51.7,291.53 L53.62,293.8 L51.7,296.07 L49.78,293.8Z" fill="#1f3c96"/>
<path d="M57.4,284.43 L59.32,286.7 L57.4,288.97 L55.48,286.7Z" fill="#1f3c96"/>
<path d="M64.9,276.93 L66.83,279.2 L64.9,281.47 L62.98,279.2Z" fill="#1f3c96"/>
<path d="M73.8,269.73 L75.72,272 L73.8,274.27 L71.88,272Z" fill="#1f3c96"/>
<path d="M85.4,263.73 L87.33,266 L85.4,268.27 L83.48,266Z" fill="#1f3c96"/>
<path d="M98.7,258.83 L100.62,261.1 L98.7,263.38 L96.78,261.1Z" fill="#1f3c96"/>
<path d="M112.9,256.23 L114.83,258.5 L112.9,260.77 L110.98,258.5Z" fill="#1f3c96"/>
<path d="M127.9,258.03 L129.83,260.3 L127.9,262.57 L125.98,260.3Z" fill="#1f3c96"/>
<path d="M142.1,263.73 L144.03,266 L142.1,268.27 L140.17,266Z" fill="#1f3c96"/>
<path d="M154.3,270.43 L156.23,272.7 L154.3,274.97 L152.38,272.7Z" fill="#1f3c96"/>
<path d="M163.8,277.93 L165.73,280.2 L163.8,282.47 L161.88,280.2Z" fill="#1f3c96"/>
<polyline points="34.8,340.8 34.85,340.68 34.9,340.54 34.97,340.38 35.05,340.19 35.14,339.96 35.25,339.69 35.36,339.37 35.5,339 35.65,338.55 35.82,338.03 36,337.45 36.2,336.83 36.41,336.2 36.63,335.57 36.86,334.96 37.1,334.4 37.35,333.87 37.61,333.34 37.88,332.82 38.16,332.31 38.45,331.81 38.75,331.35 39.07,330.91 39.4,330.5 39.74,330.13 40.1,329.79 40.47,329.48 40.85,329.19 41.24,328.92 41.65,328.67 42.07,328.43 42.5,328.2 42.95,327.98 43.42,327.76 43.9,327.56 44.4,327.38 44.9,327.21 45.41,327.08 45.91,326.97 46.4,326.9 46.89,326.87 47.38,326.88 47.87,326.91 48.36,326.98 48.84,327.06 49.33,327.16 49.82,327.28 50.3,327.4 50.78,327.53 51.25,327.68 51.73,327.85 52.2,328.03 52.67,328.23 53.15,328.44 53.62,328.66 54.1,328.9 54.59,329.15 55.1,329.42 55.61,329.7 56.13,330 56.63,330.31 57.11,330.63 57.57,330.96 58,331.3 58.39,331.65 58.76,332.02 59.11,332.39 59.44,332.78 59.75,333.18 60.04,333.58 60.33,333.99 60.6,334.4 60.87,334.84 61.13,335.33 61.38,335.84 61.61,336.34 61.83,336.83 62.02,337.26 62.18,337.63 62.3,337.9" fill="none" stroke="#000" stroke-width="1.25" stroke-linejoin="round" stroke-linecap="butt" stroke-dasharray="1.2,1.6"/>
<polyline points="34.8,340.7 34.84,340.53 34.89,340.33 34.94,340.1 35,339.83 35.08,339.5 35.19,339.11 35.33,338.65 35.5,338.1 35.71,337.42 35.96,336.61 36.24,335.7 36.55,334.73 36.87,333.76 37.21,332.81 37.55,331.95 37.9,331.2 38.24,330.56 38.59,329.98 38.95,329.45 39.31,328.96 39.7,328.51 40.1,328.09 40.54,327.69 41,327.3 41.5,326.93 42.03,326.58 42.58,326.25 43.16,325.96 43.75,325.68 44.36,325.43 44.98,325.2 45.6,325 46.24,324.82 46.89,324.65 47.56,324.51 48.24,324.39 48.93,324.29 49.62,324.23 50.31,324.2 51,324.2 51.69,324.24 52.39,324.32 53.09,324.43 53.8,324.57 54.5,324.74 55.19,324.92 55.85,325.11 56.5,325.3 57.12,325.5 57.73,325.71 58.32,325.94 58.9,326.18 59.47,326.43 60.02,326.7 60.56,326.99 61.1,327.3 61.62,327.63 62.14,327.97 62.64,328.33 63.12,328.71 63.6,329.11 64.08,329.52 64.54,329.95 65,330.4 65.47,330.9 65.96,331.47 66.46,332.08 66.94,332.69 67.4,333.28 67.8,333.82 68.14,334.27 68.4,334.6" fill="none" stroke="#000" stroke-width="1.25" stroke-linejoin="round" stroke-linecap="butt" stroke-dasharray="1.2,1.6"/>
<polyline points="34.8,340.1 34.88,339.86 34.98,339.58 35.11,339.24 35.24,338.85 35.4,338.4 35.56,337.87 35.73,337.28 35.9,336.6 36.08,335.79 36.28,334.82 36.48,333.75 36.7,332.63 36.92,331.5 37.15,330.42 37.37,329.44 37.6,328.6 37.83,327.9 38.05,327.29 38.28,326.75 38.51,326.26 38.75,325.82 38.99,325.41 39.24,325.01 39.5,324.6 39.75,324.21 39.98,323.88 40.21,323.57 40.46,323.28 40.72,322.99 41.03,322.69 41.38,322.36 41.8,322 42.3,321.59 42.86,321.13 43.47,320.65 44.12,320.16 44.8,319.67 45.48,319.2 46.15,318.78 46.8,318.4 47.43,318.08 48.05,317.8 48.67,317.55 49.29,317.33 49.92,317.12 50.57,316.91 51.22,316.71 51.9,316.5 52.59,316.28 53.3,316.07 54.02,315.86 54.75,315.65 55.49,315.45 56.25,315.26 57.02,315.07 57.8,314.9 58.6,314.73 59.44,314.55 60.29,314.37 61.15,314.21 62.01,314.06 62.86,313.94 63.7,313.85 64.5,313.8 65.27,313.79 66.01,313.81 66.74,313.85 67.45,313.93 68.16,314.03 68.89,314.16 69.63,314.31 70.4,314.5 71.2,314.71 72.02,314.96 72.86,315.23 73.71,315.53 74.57,315.85 75.42,316.21 76.27,316.59 77.1,317 77.93,317.45 78.76,317.94 79.6,318.47 80.43,319.02 81.25,319.59 82.06,320.16 82.84,320.74 83.6,321.3 84.33,321.87 85.05,322.45 85.74,323.03 86.42,323.63 87.08,324.21 87.73,324.79 88.37,325.36 89,325.9 89.62,326.44 90.24,326.98 90.85,327.52 91.44,328.04 92.02,328.54 92.57,329.01 93.1,329.43 93.6,329.8 94.06,330.1 94.47,330.32 94.86,330.5 95.22,330.65 95.58,330.78 95.94,330.93 96.31,331.09 96.7,331.3 97.13,331.56 97.61,331.87 98.1,332.2 98.59,332.54 99.06,332.87 99.48,333.17 99.84,333.42 100.1,333.6" fill="none" stroke="#000" stroke-width="1.25" stroke-linejoin="round" stroke-linecap="butt" stroke-dasharray="1.2,1.6"/>
<polyline points="34.8,341 34.85,340.54 34.91,339.93 34.98,339.21 35.06,338.41 35.15,337.55 35.25,336.68 35.37,335.81 35.5,335 35.64,334.21 35.8,333.41 35.96,332.6 36.14,331.78 36.33,330.96 36.54,330.14 36.76,329.32 37,328.5 37.26,327.68 37.53,326.85 37.82,326.02 38.12,325.19 38.45,324.36 38.78,323.55 39.13,322.76 39.5,322 39.88,321.26 40.27,320.54 40.67,319.84 41.09,319.15 41.53,318.47 42,317.81 42.48,317.15 43,316.5 43.55,315.86 44.12,315.22 44.72,314.6 45.34,313.98 45.99,313.37 46.64,312.78 47.32,312.18 48,311.6 48.7,311.02 49.41,310.45 50.13,309.88 50.88,309.32 51.63,308.77 52.41,308.23 53.2,307.71 54,307.2 54.82,306.71 55.66,306.22 56.51,305.75 57.38,305.29 58.26,304.85 59.16,304.42 60.07,304 61,303.6 61.95,303.21 62.91,302.83 63.88,302.47 64.88,302.12 65.88,301.79 66.91,301.47 67.95,301.17 69,300.9 70.08,300.65 71.18,300.42 72.3,300.21 73.44,300.01 74.58,299.84 75.73,299.68 76.87,299.53 78,299.4 79.15,299.28 80.32,299.18 81.51,299.09 82.69,299.02 83.84,298.96 84.96,298.92 86.02,298.9 87,298.9 87.9,298.92 88.74,298.96 89.53,299.01 90.27,299.09 90.98,299.18 91.66,299.27 92.33,299.38 93,299.5 93.63,299.62 94.19,299.73 94.72,299.85 95.24,299.98 95.77,300.14 96.34,300.32 96.97,300.54 97.7,300.8 98.53,301.11 99.43,301.45 100.4,301.83 101.41,302.24 102.45,302.67 103.48,303.13 104.51,303.61 105.5,304.1 106.48,304.62 107.47,305.16 108.46,305.73 109.45,306.32 110.43,306.92 111.38,307.54 112.31,308.17 113.2,308.8 114.06,309.44 114.89,310.08 115.7,310.74 116.49,311.41 117.25,312.09 117.99,312.78 118.71,313.48 119.4,314.2 120.06,314.93 120.68,315.67 121.28,316.43 121.85,317.2 122.41,317.98 122.97,318.77 123.53,319.58 124.1,320.4 124.69,321.24 125.29,322.11 125.9,322.99 126.5,323.89 127.09,324.78 127.66,325.67 128.2,326.55 128.7,327.4 129.18,328.27 129.65,329.19 130.11,330.13 130.54,331.04 130.93,331.9 131.28,332.66 131.57,333.31 131.8,333.8" fill="none" stroke="#000" stroke-width="1.25" stroke-linejoin="round" stroke-linecap="butt" stroke-dasharray="1.2,1.6"/>
<polyline points="34.8,341 34.86,340.54 34.94,339.95 35.03,339.23 35.14,338.44 35.25,337.59 35.37,336.71 35.48,335.84 35.6,335 35.71,334.18 35.82,333.34 35.93,332.49 36.04,331.62 36.16,330.74 36.29,329.84 36.44,328.93 36.6,328 36.78,327.04 36.97,326.06 37.17,325.05 37.39,324.03 37.62,323.01 37.86,321.99 38.12,320.98 38.4,320 38.7,319.04 39.01,318.08 39.34,317.13 39.69,316.19 40.05,315.25 40.42,314.33 40.8,313.41 41.2,312.5 41.6,311.6 42.02,310.73 42.44,309.86 42.88,309 43.33,308.14 43.8,307.27 44.29,306.4 44.8,305.5 45.33,304.59 45.87,303.67 46.42,302.75 47,301.81 47.59,300.87 48.21,299.92 48.84,298.96 49.5,298 50.18,297.02 50.87,296.04 51.59,295.04 52.33,294.03 53.08,293.02 53.86,292.01 54.67,291 55.5,290 56.35,289 57.22,288 58.11,286.99 59.03,285.99 59.98,284.99 60.95,283.99 61.96,282.99 63,282 64.07,281.01 65.18,280.02 66.31,279.03 67.47,278.04 68.67,277.06 69.9,276.09 71.18,275.14 72.5,274.2 73.87,273.28 75.27,272.36 76.72,271.45 78.21,270.56 79.73,269.69 81.29,268.83 82.88,268 84.5,267.2 86.17,266.41 87.9,265.63 89.66,264.87 91.46,264.12 93.28,263.42 95.1,262.76 96.91,262.15 98.7,261.6 100.47,261.11 102.23,260.65 103.99,260.25 105.75,259.89 107.52,259.58 109.29,259.33 111.09,259.13 112.9,259 114.74,258.93 116.61,258.93 118.51,258.98 120.41,259.09 122.31,259.25 124.19,259.45 126.06,259.71 127.9,260 129.71,260.35 131.51,260.75 133.3,261.21 135.08,261.72 136.83,262.26 138.57,262.82 140.3,263.41 142,264 143.67,264.61 145.3,265.23 146.9,265.89 148.49,266.56 150.08,267.26 151.68,267.98 153.32,268.73 155,269.5 156.82,270.35 158.82,271.31 160.9,272.32 162.96,273.34 164.93,274.32 166.7,275.21 168.19,275.95 169.3,276.5" fill="none" stroke="#000" stroke-width="1.25" stroke-linejoin="round" stroke-linecap="butt" stroke-dasharray="1.2,1.6"/>
<rect x="44.8" y="199.1" width="3.2" height="3.2" fill="#e8403a" />
<text x="57.5" y="203.1" font-size="6.8" text-anchor="start" font-weight="bold" fill="#111" stroke="#111" stroke-width="0.2" >TP-BT-0F-COF-L+U</text>
<circle cx="46.4" cy="210.3" r="1.6" fill="#6cc3a3"/>
<text x="57.5" y="212.7" font-size="6.8" text-anchor="start" font-weight="bold" fill="#111" stroke="#111" stroke-width="0.2" >BTA-BT-0F-COF-L+U</text>
<path d="M46.4,217.98 L48.24,221.18 L44.56,221.18Z" fill="#2fa8e6"/>
<text x="57.5" y="222.3" font-size="6.8" text-anchor="start" font-weight="bold" fill="#111" stroke="#111" stroke-width="0.2" >TP-BT-1F-COF-L+U</text>
<path d="M46.4,231.42 L48.24,228.22 L44.56,228.22Z" fill="#f5a04e"/>
<text x="57.5" y="231.9" font-size="6.8" text-anchor="start" font-weight="bold" fill="#111" stroke="#111" stroke-width="0.2" >TP-BT-2F-COF-L+U</text>
<path d="M46.4,237.02 L48.16,239.1 L46.4,241.18 L44.64,239.1Z" fill="#1f3c96"/>
<text x="57.5" y="241.5" font-size="6.8" text-anchor="start" font-weight="bold" fill="#111" stroke="#111" stroke-width="0.2" >TP-SB-COF-L+U</text>
<line x1="41.1" y1="252.9" x2="52.7" y2="252.9" stroke="#111" stroke-width="1.0" stroke-dasharray="1.8,1.2"/>
<text x="59.2" y="254.7" font-size="7.4" text-anchor="start" font-weight="bold" fill="#111" stroke="#111" stroke-width="0.2" >Fitting curve</text>
<line x1="131.3" y1="309.3" x2="211" y2="309.3" stroke="#2a2a2a" stroke-width="0.9" />
<line x1="163.3" y1="298.3" x2="195.5" y2="298.3" stroke="#2a2a2a" stroke-width="0.9" />
<line x1="163.3" y1="298.3" x2="163.3" y2="309.3" stroke="#2a2a2a" stroke-width="0.9" />
<line x1="195.5" y1="298.3" x2="195.5" y2="309.3" stroke="#2a2a2a" stroke-width="0.9" />
<rect x="142" y="307.4" width="13.5" height="4" fill="#f2b400" stroke="#6a5200" stroke-width="0.5"/>
<rect x="173.3" y="296.5" width="12.8" height="3.9" fill="#f2b400" stroke="#6a5200" stroke-width="0.5"/>
<circle cx="131.3" cy="309.3" r="0.9" fill="#f2b400"/>
<circle cx="163.3" cy="309.3" r="0.9" fill="#f2b400"/>
<circle cx="195.5" cy="309.3" r="0.9" fill="#f2b400"/>
<circle cx="211.0" cy="309.3" r="0.9" fill="#f2b400"/>
<path d="M174.6,307.8 L177.6,309.3 L174.6,310.8Z" fill="#222"/>
<path d="M180.2,307.7 L182.2,309.3 L180.2,310.9" fill="none" stroke="#222" stroke-width="0.7"/>
<text x="146.1" y="302.7" font-size="7.2" text-anchor="start" font-weight="bold" fill="#222" stroke="#222" stroke-width="0.2" >R<tspan font-size="4.8" dy="1.3">1</tspan></text>
<text x="178" y="292.4" font-size="7.2" text-anchor="start" font-weight="bold" fill="#222" stroke="#222" stroke-width="0.2" >R<tspan font-size="4.8" dy="1.3">2</tspan></text>
<text x="180.4" y="318.8" font-size="7.0" text-anchor="middle" font-weight="bold" fill="#222" stroke="#222" stroke-width="0.2" >CPE</text>
<text transform="translate(228.8,199.7) scale(1,1.06)" x="0" y="0" font-size="10.9" text-anchor="start" font-weight="bold" fill="#111" stroke="#111" stroke-width="0.2" >(E)</text>
<defs><linearGradient id="cbar" x1="0" y1="0" x2="0" y2="1"><stop offset="0" stop-color="#ffffff"/><stop offset="0.08" stop-color="#f2ead2"/><stop offset="0.2" stop-color="#d8c088"/><stop offset="0.33" stop-color="#b89440"/><stop offset="0.45" stop-color="#9a6420"/><stop offset="0.55" stop-color="#6e2010"/><stop offset="0.65" stop-color="#4a0c06"/><stop offset="0.78" stop-color="#1e0303"/><stop offset="0.9" stop-color="#080000"/><stop offset="1" stop-color="#000"/></linearGradient><linearGradient id="etop" x1="0" y1="0" x2="0" y2="1"><stop offset="0" stop-color="#9a6218"/><stop offset="0.15" stop-color="#a86f22"/><stop offset="0.4" stop-color="#b8862f"/><stop offset="0.6" stop-color="#c8a04a"/><stop offset="0.8" stop-color="#d8ba6c"/><stop offset="1" stop-color="#e2ca86"/></linearGradient><radialGradient id="etr" gradientUnits="userSpaceOnUse" cx="446" cy="194" r="120" gradientTransform="translate(446 194) scale(1 0.4) translate(-446 -194)"><stop offset="0" stop-color="#5a2800" stop-opacity="0.55"/><stop offset="0.6" stop-color="#5a2800" stop-opacity="0.2"/><stop offset="1" stop-color="#5a2800" stop-opacity="0"/></radialGradient><radialGradient id="ewedge" gradientUnits="userSpaceOnUse" cx="352" cy="222" r="45" gradientTransform="translate(352 222) rotate(22) scale(1 0.28) translate(-352 -222)"><stop offset="0" stop-color="#f4e2b0" stop-opacity="0.5"/><stop offset="1" stop-color="#f4e2b0" stop-opacity="0"/></radialGradient><linearGradient id="ebot" x1="0" y1="0" x2="0" y2="1"><stop offset="0" stop-color="#420807"/><stop offset="0.3" stop-color="#360504"/><stop offset="0.5" stop-color="#320404"/><stop offset="0.7" stop-color="#3c0805"/><stop offset="0.85" stop-color="#4a1006"/><stop offset="1" stop-color="#561807"/></linearGradient><radialGradient id="elite" cx="0.3" cy="0.35" r="0.35"><stop offset="0" stop-color="#f0d8a0" stop-opacity="0.35"/><stop offset="1" stop-color="#f0d8a0" stop-opacity="0"/></radialGradient><linearGradient id="eside" x1="0" y1="0" x2="1" y2="0"><stop offset="0" stop-color="#5a2a00" stop-opacity="0.12"/><stop offset="0.3" stop-color="#5a2a00" stop-opacity="0"/><stop offset="0.75" stop-color="#5a2a00" stop-opacity="0"/><stop offset="1" stop-color="#5a2a00" stop-opacity="0.15"/></linearGradient></defs>
<rect x="240" y="227.5" width="9.1" height="91.4" fill="url(#cbar)" />
<text x="229.1" y="219.8" font-size="7.4" text-anchor="start" font-weight="bold" fill="#111" stroke="#111" stroke-width="0.2" >117.7 mV</text>
<text x="230.1" y="327.9" font-size="7.2" text-anchor="start" font-weight="bold" fill="#111" stroke="#111" stroke-width="0.2" >-69.5 mV</text>
<rect x="265.3" y="194.7" width="180.5" height="74.3" fill="url(#etop)" />
<rect x="265.3" y="269" width="180.5" height="71.5" fill="url(#ebot)" />
<rect x="265.3" y="194.7" width="180.5" height="74.3" fill="url(#eside)" />
<rect x="265.3" y="194.7" width="180.5" height="74.3" fill="url(#etr)" />
<rect x="265.3" y="194.7" width="180.5" height="74.3" fill="url(#ewedge)" />
<rect x="311.09" y="195" width="40.61" height="0.6" fill="#6a3600" opacity="0.13"/>
<rect x="351.7" y="195" width="25.16" height="0.6" fill="#6a3600" opacity="0.14"/>
<rect x="376.85" y="195" width="58.61" height="0.6" fill="#fff6dc" opacity="0.08"/>
<rect x="334.32" y="195.92" width="50.97" height="0.37" fill="#6a3600" opacity="0.06"/>
<rect x="385.29" y="195.92" width="15.83" height="0.37" fill="#6a3600" opacity="0.04"/>
<rect x="401.11" y="195.92" width="25.46" height="0.37" fill="#fff6dc" opacity="0.05"/>
<rect x="426.57" y="195.92" width="19.23" height="0.37" fill="#6a3600" opacity="0.17"/>
<rect x="265.3" y="196.73" width="42.49" height="0.7" fill="#6a3600" opacity="0.11"/>
<rect x="407.85" y="196.73" width="37.95" height="0.7" fill="#fff6dc" opacity="0.07"/>
<rect x="265.3" y="197.4" width="57.15" height="0.39" fill="#6a3600" opacity="0.17"/>
<rect x="358.7" y="197.4" width="61.6" height="0.39" fill="#fff6dc" opacity="0.07"/>
<rect x="420.31" y="197.4" width="25.49" height="0.39" fill="#6a3600" opacity="0.20"/>
<rect x="265.3" y="198.14" width="49.62" height="0.39" fill="#6a3600" opacity="0.08"/>
<rect x="314.92" y="198.14" width="19.79" height="0.39" fill="#fff6dc" opacity="0.15"/>
<rect x="334.71" y="198.14" width="56.69" height="0.39" fill="#fff6dc" opacity="0.07"/>
<rect x="391.41" y="198.14" width="20.56" height="0.39" fill="#fff6dc" opacity="0.13"/>
<rect x="411.96" y="198.14" width="24.77" height="0.39" fill="#6a3600" opacity="0.11"/>
<rect x="436.74" y="198.14" width="9.06" height="0.39" fill="#6a3600" opacity="0.05"/>
<rect x="265.3" y="199.03" width="38.14" height="0.41" fill="#fff6dc" opacity="0.08"/>
<rect x="403.57" y="199.03" width="26.59" height="0.41" fill="#6a3600" opacity="0.18"/>
<rect x="430.16" y="199.03" width="15.64" height="0.41" fill="#fff6dc" opacity="0.15"/>
<rect x="265.3" y="199.65" width="57.5" height="0.49" fill="#fff6dc" opacity="0.08"/>
<rect x="322.8" y="199.65" width="19.04" height="0.49" fill="#fff6dc" opacity="0.11"/>
<rect x="341.83" y="199.65" width="28.37" height="0.49" fill="#6a3600" opacity="0.09"/>
<rect x="410.13" y="199.65" width="35.67" height="0.49" fill="#6a3600" opacity="0.18"/>
<rect x="330.26" y="200.26" width="28.72" height="0.43" fill="#fff6dc" opacity="0.13"/>
<rect x="358.99" y="200.26" width="66.72" height="0.43" fill="#fff6dc" opacity="0.15"/>
<rect x="425.71" y="200.26" width="20.09" height="0.43" fill="#6a3600" opacity="0.10"/>
<rect x="265.3" y="200.83" width="67.95" height="0.37" fill="#fff6dc" opacity="0.12"/>
<rect x="362.38" y="200.83" width="47.81" height="0.37" fill="#fff6dc" opacity="0.07"/>
<rect x="410.19" y="200.83" width="35.61" height="0.37" fill="#fff6dc" opacity="0.07"/>
<rect x="265.3" y="201.66" width="48.79" height="0.82" fill="#fff6dc" opacity="0.14"/>
<rect x="314.09" y="201.66" width="26.22" height="0.82" fill="#fff6dc" opacity="0.08"/>
<rect x="340.31" y="201.66" width="39.51" height="0.82" fill="#fff6dc" opacity="0.07"/>
<rect x="379.82" y="201.66" width="35.28" height="0.82" fill="#6a3600" opacity="0.05"/>
<rect x="265.3" y="202.75" width="53.02" height="0.71" fill="#6a3600" opacity="0.05"/>
<rect x="318.32" y="202.75" width="16.93" height="0.71" fill="#fff6dc" opacity="0.15"/>
<rect x="388.8" y="202.75" width="16.17" height="0.71" fill="#6a3600" opacity="0.11"/>
<rect x="404.97" y="202.75" width="40.83" height="0.71" fill="#fff6dc" opacity="0.15"/>
<rect x="320.84" y="203.29" width="55.54" height="0.65" fill="#6a3600" opacity="0.16"/>
<rect x="376.38" y="203.29" width="65.33" height="0.65" fill="#fff6dc" opacity="0.12"/>
<rect x="265.3" y="204.04" width="62.49" height="0.78" fill="#6a3600" opacity="0.14"/>
<rect x="327.79" y="204.04" width="36.03" height="0.78" fill="#6a3600" opacity="0.13"/>
<rect x="363.82" y="204.04" width="19.41" height="0.78" fill="#6a3600" opacity="0.20"/>
<rect x="383.23" y="204.04" width="62.57" height="0.78" fill="#6a3600" opacity="0.10"/>
<rect x="304.53" y="204.99" width="19.61" height="0.67" fill="#6a3600" opacity="0.04"/>
<rect x="324.14" y="204.99" width="48.07" height="0.67" fill="#6a3600" opacity="0.07"/>
<rect x="372.21" y="204.99" width="53.41" height="0.67" fill="#6a3600" opacity="0.13"/>
<rect x="425.62" y="204.99" width="20.18" height="0.67" fill="#fff6dc" opacity="0.05"/>
<rect x="265.3" y="205.67" width="26.14" height="0.72" fill="#fff6dc" opacity="0.15"/>
<rect x="291.44" y="205.67" width="51.3" height="0.72" fill="#6a3600" opacity="0.18"/>
<rect x="342.74" y="205.67" width="32.98" height="0.72" fill="#6a3600" opacity="0.06"/>
<rect x="265.3" y="206.4" width="32.41" height="0.67" fill="#fff6dc" opacity="0.10"/>
<rect x="412.86" y="206.4" width="30.22" height="0.67" fill="#fff6dc" opacity="0.10"/>
<rect x="443.09" y="206.4" width="2.71" height="0.67" fill="#fff6dc" opacity="0.10"/>
<rect x="297.65" y="207.27" width="69.01" height="0.62" fill="#6a3600" opacity="0.04"/>
<rect x="383.39" y="207.27" width="17.28" height="0.62" fill="#6a3600" opacity="0.13"/>
<rect x="400.67" y="207.27" width="32" height="0.62" fill="#6a3600" opacity="0.03"/>
<rect x="432.67" y="207.27" width="13.13" height="0.62" fill="#6a3600" opacity="0.03"/>
<rect x="265.3" y="208.27" width="22.75" height="0.48" fill="#fff6dc" opacity="0.12"/>
<rect x="288.05" y="208.27" width="39.56" height="0.48" fill="#6a3600" opacity="0.14"/>
<rect x="387.01" y="208.27" width="52.65" height="0.48" fill="#fff6dc" opacity="0.10"/>
<rect x="439.66" y="208.27" width="6.14" height="0.48" fill="#fff6dc" opacity="0.10"/>
<rect x="265.3" y="209.2" width="29.98" height="0.45" fill="#fff6dc" opacity="0.13"/>
<rect x="295.28" y="209.2" width="43.62" height="0.45" fill="#6a3600" opacity="0.16"/>
<rect x="338.9" y="209.2" width="36.64" height="0.45" fill="#6a3600" opacity="0.18"/>
<rect x="395.34" y="209.2" width="50.46" height="0.45" fill="#fff6dc" opacity="0.10"/>
<rect x="265.3" y="210.07" width="35.72" height="0.85" fill="#6a3600" opacity="0.18"/>
<rect x="359.85" y="210.07" width="40.5" height="0.85" fill="#6a3600" opacity="0.06"/>
<rect x="360.96" y="210.96" width="44.53" height="0.74" fill="#6a3600" opacity="0.08"/>
<rect x="265.3" y="211.67" width="39.25" height="0.4" fill="#6a3600" opacity="0.16"/>
<rect x="304.55" y="211.67" width="41.81" height="0.4" fill="#fff6dc" opacity="0.15"/>
<rect x="346.36" y="211.67" width="18.52" height="0.4" fill="#6a3600" opacity="0.06"/>
<rect x="364.88" y="211.67" width="33.43" height="0.4" fill="#6a3600" opacity="0.05"/>
<rect x="398.31" y="211.67" width="23.18" height="0.4" fill="#6a3600" opacity="0.15"/>
<rect x="421.48" y="211.67" width="24.32" height="0.4" fill="#6a3600" opacity="0.19"/>
<rect x="265.3" y="212.46" width="19.73" height="0.87" fill="#fff6dc" opacity="0.11"/>
<rect x="285.03" y="212.46" width="30.96" height="0.87" fill="#6a3600" opacity="0.14"/>
<rect x="359.74" y="212.46" width="45.8" height="0.87" fill="#fff6dc" opacity="0.10"/>
<rect x="265.3" y="213.09" width="68.26" height="0.82" fill="#6a3600" opacity="0.13"/>
<rect x="333.56" y="213.09" width="26.05" height="0.82" fill="#6a3600" opacity="0.12"/>
<rect x="359.62" y="213.09" width="48.29" height="0.82" fill="#fff6dc" opacity="0.17"/>
<rect x="407.9" y="213.09" width="37.9" height="0.82" fill="#fff6dc" opacity="0.15"/>
<rect x="265.3" y="213.93" width="53" height="0.62" fill="#fff6dc" opacity="0.12"/>
<rect x="356.06" y="213.93" width="65.79" height="0.62" fill="#fff6dc" opacity="0.11"/>
<rect x="421.85" y="213.93" width="21.98" height="0.62" fill="#6a3600" opacity="0.17"/>
<rect x="443.83" y="213.93" width="1.97" height="0.62" fill="#6a3600" opacity="0.08"/>
<rect x="265.3" y="214.54" width="65.89" height="0.69" fill="#fff6dc" opacity="0.15"/>
<rect x="331.19" y="214.54" width="16.25" height="0.69" fill="#fff6dc" opacity="0.08"/>
<rect x="347.44" y="214.54" width="52.79" height="0.69" fill="#fff6dc" opacity="0.10"/>
<rect x="400.23" y="214.54" width="45.57" height="0.69" fill="#fff6dc" opacity="0.14"/>
<rect x="265.3" y="215.12" width="28.78" height="0.63" fill="#fff6dc" opacity="0.12"/>
<rect x="294.08" y="215.12" width="39.02" height="0.63" fill="#fff6dc" opacity="0.10"/>
<rect x="333.1" y="215.12" width="44.11" height="0.63" fill="#fff6dc" opacity="0.08"/>
<rect x="377.22" y="215.12" width="49.72" height="0.63" fill="#6a3600" opacity="0.12"/>
<rect x="426.94" y="215.12" width="18.86" height="0.63" fill="#6a3600" opacity="0.18"/>
<rect x="324.88" y="215.75" width="32.37" height="0.76" fill="#fff6dc" opacity="0.17"/>
<rect x="384.25" y="215.75" width="61.55" height="0.76" fill="#fff6dc" opacity="0.08"/>
<rect x="285.64" y="216.69" width="38.19" height="0.49" fill="#6a3600" opacity="0.05"/>
<rect x="323.83" y="216.69" width="37.15" height="0.49" fill="#6a3600" opacity="0.03"/>
<rect x="360.98" y="216.69" width="26.05" height="0.49" fill="#6a3600" opacity="0.18"/>
<rect x="387.03" y="216.69" width="58.77" height="0.49" fill="#fff6dc" opacity="0.12"/>
<rect x="265.3" y="217.65" width="52.71" height="0.63" fill="#fff6dc" opacity="0.06"/>
<rect x="318.01" y="217.65" width="20.84" height="0.63" fill="#fff6dc" opacity="0.13"/>
<rect x="338.85" y="217.65" width="43.32" height="0.63" fill="#6a3600" opacity="0.05"/>
<rect x="382.17" y="217.65" width="25.15" height="0.63" fill="#fff6dc" opacity="0.17"/>
<rect x="265.3" y="218.2" width="67.33" height="0.38" fill="#6a3600" opacity="0.16"/>
<rect x="332.63" y="218.2" width="32.98" height="0.38" fill="#6a3600" opacity="0.12"/>
<rect x="365.61" y="218.2" width="38.65" height="0.38" fill="#6a3600" opacity="0.03"/>
<rect x="265.3" y="218.81" width="55.66" height="0.6" fill="#fff6dc" opacity="0.08"/>
<rect x="320.96" y="218.81" width="24.08" height="0.6" fill="#6a3600" opacity="0.03"/>
<rect x="265.3" y="219.69" width="47.98" height="0.57" fill="#6a3600" opacity="0.20"/>
<rect x="313.28" y="219.69" width="59.27" height="0.57" fill="#fff6dc" opacity="0.18"/>
<rect x="372.54" y="219.69" width="55.94" height="0.57" fill="#6a3600" opacity="0.17"/>
<rect x="265.3" y="220.72" width="57.2" height="0.73" fill="#6a3600" opacity="0.10"/>
<rect x="322.5" y="220.72" width="54.74" height="0.73" fill="#fff6dc" opacity="0.10"/>
<rect x="377.24" y="220.72" width="40.79" height="0.73" fill="#fff6dc" opacity="0.10"/>
<rect x="418.03" y="220.72" width="27.77" height="0.73" fill="#6a3600" opacity="0.07"/>
<rect x="265.3" y="221.78" width="33.58" height="0.72" fill="#6a3600" opacity="0.13"/>
<rect x="298.88" y="221.78" width="44.32" height="0.72" fill="#fff6dc" opacity="0.20"/>
<rect x="343.2" y="221.78" width="50.32" height="0.72" fill="#6a3600" opacity="0.16"/>
<rect x="393.52" y="221.78" width="52.28" height="0.72" fill="#fff6dc" opacity="0.14"/>
<rect x="265.3" y="222.73" width="37.09" height="0.49" fill="#fff6dc" opacity="0.08"/>
<rect x="302.39" y="222.73" width="35.66" height="0.49" fill="#fff6dc" opacity="0.09"/>
<rect x="338.05" y="222.73" width="64.81" height="0.49" fill="#6a3600" opacity="0.12"/>
<rect x="402.86" y="222.73" width="42.94" height="0.49" fill="#6a3600" opacity="0.20"/>
<rect x="265.3" y="223.61" width="19.19" height="0.8" fill="#6a3600" opacity="0.16"/>
<rect x="301.97" y="223.61" width="23.8" height="0.8" fill="#6a3600" opacity="0.06"/>
<rect x="325.77" y="223.61" width="42.25" height="0.8" fill="#6a3600" opacity="0.04"/>
<rect x="368.02" y="223.61" width="66.99" height="0.8" fill="#fff6dc" opacity="0.13"/>
<rect x="435.01" y="223.61" width="10.79" height="0.8" fill="#fff6dc" opacity="0.10"/>
<rect x="265.3" y="224.5" width="30.59" height="0.66" fill="#6a3600" opacity="0.08"/>
<rect x="295.89" y="224.5" width="15.77" height="0.66" fill="#fff6dc" opacity="0.06"/>
<rect x="311.66" y="224.5" width="23.61" height="0.66" fill="#6a3600" opacity="0.10"/>
<rect x="335.28" y="224.5" width="64.36" height="0.66" fill="#6a3600" opacity="0.04"/>
<rect x="265.3" y="225.05" width="38.62" height="0.85" fill="#6a3600" opacity="0.20"/>
<rect x="303.92" y="225.05" width="28.4" height="0.85" fill="#6a3600" opacity="0.19"/>
<rect x="332.33" y="225.05" width="54.75" height="0.85" fill="#6a3600" opacity="0.20"/>
<rect x="387.08" y="225.05" width="58.72" height="0.85" fill="#6a3600" opacity="0.05"/>
<rect x="265.3" y="225.92" width="26.2" height="0.6" fill="#fff6dc" opacity="0.14"/>
<rect x="291.5" y="225.92" width="21.84" height="0.6" fill="#fff6dc" opacity="0.16"/>
<rect x="313.34" y="225.92" width="40.06" height="0.6" fill="#fff6dc" opacity="0.15"/>
<rect x="353.39" y="225.92" width="38.07" height="0.6" fill="#6a3600" opacity="0.12"/>
<rect x="286.56" y="226.86" width="58.14" height="0.48" fill="#6a3600" opacity="0.09"/>
<rect x="344.7" y="226.86" width="29.93" height="0.48" fill="#6a3600" opacity="0.13"/>
<rect x="374.63" y="226.86" width="47.54" height="0.48" fill="#6a3600" opacity="0.16"/>
<rect x="422.18" y="226.86" width="23.62" height="0.48" fill="#fff6dc" opacity="0.22"/>
<rect x="265.3" y="227.91" width="17.17" height="0.83" fill="#fff6dc" opacity="0.10"/>
<rect x="282.47" y="227.91" width="38.39" height="0.83" fill="#6a3600" opacity="0.05"/>
<rect x="320.86" y="227.91" width="44.79" height="0.83" fill="#fff6dc" opacity="0.07"/>
<rect x="365.65" y="227.91" width="52.2" height="0.83" fill="#6a3600" opacity="0.14"/>
<rect x="417.84" y="227.91" width="27.96" height="0.83" fill="#6a3600" opacity="0.07"/>
<rect x="265.3" y="228.62" width="61.12" height="0.76" fill="#fff6dc" opacity="0.07"/>
<rect x="326.42" y="228.62" width="59.51" height="0.76" fill="#6a3600" opacity="0.16"/>
<rect x="385.93" y="228.62" width="26.72" height="0.76" fill="#fff6dc" opacity="0.10"/>
<rect x="412.65" y="228.62" width="33.15" height="0.76" fill="#fff6dc" opacity="0.17"/>
<rect x="265.3" y="229.71" width="45.17" height="0.53" fill="#6a3600" opacity="0.19"/>
<rect x="310.47" y="229.71" width="38.52" height="0.53" fill="#fff6dc" opacity="0.07"/>
<rect x="348.99" y="229.71" width="63.13" height="0.53" fill="#fff6dc" opacity="0.07"/>
<rect x="412.13" y="229.71" width="33.67" height="0.53" fill="#6a3600" opacity="0.15"/>
<rect x="265.3" y="230.39" width="19.18" height="0.78" fill="#fff6dc" opacity="0.18"/>
<rect x="284.48" y="230.39" width="19.49" height="0.78" fill="#fff6dc" opacity="0.19"/>
<rect x="303.98" y="230.39" width="53.17" height="0.78" fill="#fff6dc" opacity="0.08"/>
<rect x="357.15" y="230.39" width="34.68" height="0.78" fill="#6a3600" opacity="0.09"/>
<rect x="391.83" y="230.39" width="21.46" height="0.78" fill="#6a3600" opacity="0.13"/>
<rect x="265.3" y="231.44" width="59.17" height="0.59" fill="#fff6dc" opacity="0.11"/>
<rect x="361.45" y="231.44" width="64.21" height="0.59" fill="#fff6dc" opacity="0.12"/>
<rect x="425.66" y="231.44" width="20.14" height="0.59" fill="#fff6dc" opacity="0.13"/>
<rect x="265.3" y="232.17" width="46.01" height="0.46" fill="#6a3600" opacity="0.12"/>
<rect x="311.31" y="232.17" width="61" height="0.46" fill="#6a3600" opacity="0.06"/>
<rect x="429.05" y="232.17" width="16.75" height="0.46" fill="#fff6dc" opacity="0.15"/>
<rect x="265.3" y="233" width="68.15" height="0.66" fill="#6a3600" opacity="0.17"/>
<rect x="333.45" y="233" width="18.52" height="0.66" fill="#6a3600" opacity="0.16"/>
<rect x="351.98" y="233" width="19.62" height="0.66" fill="#fff6dc" opacity="0.20"/>
<rect x="371.6" y="233" width="64.45" height="0.66" fill="#fff6dc" opacity="0.18"/>
<rect x="436.05" y="233" width="9.75" height="0.66" fill="#6a3600" opacity="0.14"/>
<rect x="265.3" y="233.65" width="57.09" height="0.47" fill="#6a3600" opacity="0.16"/>
<rect x="322.39" y="233.65" width="36.69" height="0.47" fill="#fff6dc" opacity="0.25"/>
<rect x="359.09" y="233.65" width="51.98" height="0.47" fill="#6a3600" opacity="0.12"/>
<rect x="411.07" y="233.65" width="34.73" height="0.47" fill="#6a3600" opacity="0.19"/>
<rect x="440.17" y="234.39" width="5.63" height="0.8" fill="#6a3600" opacity="0.15"/>
<rect x="265.3" y="235.37" width="38.13" height="0.58" fill="#fff6dc" opacity="0.21"/>
<rect x="303.43" y="235.37" width="69.51" height="0.58" fill="#fff6dc" opacity="0.09"/>
<rect x="372.93" y="235.37" width="26.24" height="0.58" fill="#fff6dc" opacity="0.11"/>
<rect x="399.17" y="235.37" width="46.63" height="0.58" fill="#fff6dc" opacity="0.12"/>
<rect x="265.3" y="235.94" width="57.68" height="0.71" fill="#fff6dc" opacity="0.06"/>
<rect x="322.98" y="235.94" width="40.23" height="0.71" fill="#6a3600" opacity="0.18"/>
<rect x="363.21" y="235.94" width="17" height="0.71" fill="#fff6dc" opacity="0.09"/>
<rect x="380.21" y="235.94" width="26.96" height="0.71" fill="#fff6dc" opacity="0.21"/>
<rect x="407.16" y="235.94" width="38.64" height="0.71" fill="#fff6dc" opacity="0.09"/>
<rect x="265.3" y="236.61" width="56.66" height="0.44" fill="#fff6dc" opacity="0.17"/>
<rect x="321.96" y="236.61" width="59.94" height="0.44" fill="#fff6dc" opacity="0.11"/>
<rect x="445.71" y="236.61" width="0.09" height="0.44" fill="#6a3600" opacity="0.19"/>
<rect x="283.03" y="237.4" width="59.08" height="0.47" fill="#fff6dc" opacity="0.17"/>
<rect x="342.11" y="237.4" width="43.37" height="0.47" fill="#fff6dc" opacity="0.28"/>
<rect x="385.48" y="237.4" width="51.17" height="0.47" fill="#fff6dc" opacity="0.05"/>
<rect x="436.65" y="237.4" width="9.15" height="0.47" fill="#fff6dc" opacity="0.23"/>
<rect x="265.3" y="238.33" width="23.65" height="0.68" fill="#fff6dc" opacity="0.13"/>
<rect x="318.22" y="238.33" width="43.39" height="0.68" fill="#6a3600" opacity="0.20"/>
<rect x="361.61" y="238.33" width="29.66" height="0.68" fill="#6a3600" opacity="0.06"/>
<rect x="391.26" y="238.33" width="54.54" height="0.68" fill="#fff6dc" opacity="0.25"/>
<rect x="265.3" y="239.34" width="19.53" height="0.8" fill="#fff6dc" opacity="0.23"/>
<rect x="284.83" y="239.34" width="20.34" height="0.8" fill="#fff6dc" opacity="0.16"/>
<rect x="305.18" y="239.34" width="67.55" height="0.8" fill="#6a3600" opacity="0.18"/>
<rect x="372.73" y="239.34" width="31.7" height="0.8" fill="#6a3600" opacity="0.10"/>
<rect x="404.43" y="239.34" width="41.37" height="0.8" fill="#fff6dc" opacity="0.25"/>
<rect x="265.3" y="239.96" width="43.91" height="0.65" fill="#fff6dc" opacity="0.26"/>
<rect x="309.21" y="239.96" width="32.13" height="0.65" fill="#fff6dc" opacity="0.07"/>
<rect x="341.34" y="239.96" width="31.81" height="0.65" fill="#fff6dc" opacity="0.23"/>
<rect x="373.15" y="239.96" width="34.78" height="0.65" fill="#6a3600" opacity="0.05"/>
<rect x="407.94" y="239.96" width="36.68" height="0.65" fill="#fff6dc" opacity="0.29"/>
<rect x="444.62" y="239.96" width="1.18" height="0.65" fill="#6a3600" opacity="0.03"/>
<rect x="265.3" y="240.69" width="28.06" height="0.74" fill="#6a3600" opacity="0.11"/>
<rect x="308.94" y="240.69" width="58.97" height="0.74" fill="#fff6dc" opacity="0.21"/>
<rect x="367.91" y="240.69" width="30.97" height="0.74" fill="#fff6dc" opacity="0.19"/>
<rect x="398.88" y="240.69" width="31.4" height="0.74" fill="#fff6dc" opacity="0.15"/>
<rect x="430.28" y="240.69" width="15.52" height="0.74" fill="#fff6dc" opacity="0.10"/>
<rect x="265.3" y="241.63" width="66.98" height="0.53" fill="#6a3600" opacity="0.15"/>
<rect x="365.52" y="241.63" width="20.08" height="0.53" fill="#fff6dc" opacity="0.07"/>
<rect x="385.59" y="241.63" width="52.27" height="0.53" fill="#6a3600" opacity="0.06"/>
<rect x="265.3" y="242.48" width="27.46" height="0.4" fill="#fff6dc" opacity="0.08"/>
<rect x="292.76" y="242.48" width="37.38" height="0.4" fill="#fff6dc" opacity="0.29"/>
<rect x="330.14" y="242.48" width="38.49" height="0.4" fill="#6a3600" opacity="0.14"/>
<rect x="425.8" y="242.48" width="20" height="0.4" fill="#fff6dc" opacity="0.16"/>
<rect x="318.79" y="242.99" width="58.43" height="0.57" fill="#6a3600" opacity="0.13"/>
<rect x="377.23" y="242.99" width="16.02" height="0.57" fill="#fff6dc" opacity="0.14"/>
<rect x="393.25" y="242.99" width="50.79" height="0.57" fill="#fff6dc" opacity="0.15"/>
<rect x="444.03" y="242.99" width="1.77" height="0.57" fill="#6a3600" opacity="0.17"/>
<rect x="322.46" y="243.86" width="45.15" height="0.44" fill="#fff6dc" opacity="0.19"/>
<rect x="367.61" y="243.86" width="22.8" height="0.44" fill="#6a3600" opacity="0.20"/>
<rect x="390.41" y="243.86" width="43.38" height="0.44" fill="#6a3600" opacity="0.17"/>
<rect x="265.3" y="244.73" width="19.58" height="0.46" fill="#fff6dc" opacity="0.21"/>
<rect x="284.88" y="244.73" width="53.34" height="0.46" fill="#fff6dc" opacity="0.31"/>
<rect x="338.22" y="244.73" width="34.87" height="0.46" fill="#fff6dc" opacity="0.08"/>
<rect x="373.08" y="244.73" width="68.55" height="0.46" fill="#fff6dc" opacity="0.30"/>
<rect x="441.63" y="244.73" width="4.17" height="0.46" fill="#6a3600" opacity="0.13"/>
<rect x="334.87" y="245.39" width="48.08" height="0.85" fill="#fff6dc" opacity="0.29"/>
<rect x="413.82" y="245.39" width="28.25" height="0.85" fill="#6a3600" opacity="0.17"/>
<rect x="442.07" y="245.39" width="3.73" height="0.85" fill="#6a3600" opacity="0.04"/>
<rect x="334.59" y="245.91" width="51.21" height="0.45" fill="#fff6dc" opacity="0.24"/>
<rect x="385.8" y="245.91" width="55.57" height="0.45" fill="#fff6dc" opacity="0.22"/>
<rect x="441.37" y="245.91" width="4.43" height="0.45" fill="#fff6dc" opacity="0.11"/>
<rect x="265.3" y="246.69" width="36.25" height="0.43" fill="#6a3600" opacity="0.06"/>
<rect x="301.55" y="246.69" width="43.59" height="0.43" fill="#fff6dc" opacity="0.22"/>
<rect x="345.14" y="246.69" width="33.27" height="0.43" fill="#6a3600" opacity="0.04"/>
<rect x="378.4" y="246.69" width="51.9" height="0.43" fill="#fff6dc" opacity="0.33"/>
<rect x="430.31" y="246.69" width="15.49" height="0.43" fill="#fff6dc" opacity="0.17"/>
<rect x="265.3" y="247.57" width="56.69" height="0.73" fill="#6a3600" opacity="0.11"/>
<rect x="391.7" y="247.57" width="54.1" height="0.73" fill="#fff6dc" opacity="0.18"/>
<rect x="265.3" y="248.41" width="43.93" height="0.85" fill="#fff6dc" opacity="0.18"/>
<rect x="309.23" y="248.41" width="64.74" height="0.85" fill="#fff6dc" opacity="0.07"/>
<rect x="428.87" y="248.41" width="16.93" height="0.85" fill="#6a3600" opacity="0.16"/>
<rect x="265.3" y="249.09" width="18.84" height="0.68" fill="#fff6dc" opacity="0.19"/>
<rect x="284.14" y="249.09" width="42.64" height="0.68" fill="#fff6dc" opacity="0.07"/>
<rect x="326.78" y="249.09" width="53.22" height="0.68" fill="#fff6dc" opacity="0.13"/>
<rect x="380" y="249.09" width="31.85" height="0.68" fill="#fff6dc" opacity="0.12"/>
<rect x="430.61" y="249.09" width="15.19" height="0.68" fill="#6a3600" opacity="0.18"/>
<rect x="265.3" y="249.84" width="27.2" height="0.79" fill="#6a3600" opacity="0.13"/>
<rect x="292.5" y="249.84" width="64.69" height="0.79" fill="#fff6dc" opacity="0.30"/>
<rect x="357.19" y="249.84" width="21.81" height="0.79" fill="#6a3600" opacity="0.19"/>
<rect x="378.99" y="249.84" width="15.03" height="0.79" fill="#fff6dc" opacity="0.15"/>
<rect x="394.03" y="249.84" width="32.86" height="0.79" fill="#fff6dc" opacity="0.34"/>
<rect x="426.89" y="249.84" width="18.91" height="0.79" fill="#fff6dc" opacity="0.16"/>
<rect x="282.01" y="250.69" width="31.93" height="0.38" fill="#fff6dc" opacity="0.36"/>
<rect x="313.94" y="250.69" width="68.75" height="0.38" fill="#fff6dc" opacity="0.12"/>
<rect x="413.94" y="250.69" width="31.86" height="0.38" fill="#fff6dc" opacity="0.32"/>
<rect x="289.75" y="251.41" width="69.75" height="0.61" fill="#fff6dc" opacity="0.26"/>
<rect x="385.03" y="251.41" width="17.75" height="0.61" fill="#fff6dc" opacity="0.29"/>
<rect x="435" y="251.41" width="10.8" height="0.61" fill="#6a3600" opacity="0.05"/>
<rect x="265.3" y="252.32" width="39.48" height="0.87" fill="#fff6dc" opacity="0.13"/>
<rect x="304.78" y="252.32" width="31.89" height="0.87" fill="#6a3600" opacity="0.06"/>
<rect x="336.68" y="252.32" width="24.96" height="0.87" fill="#fff6dc" opacity="0.28"/>
<rect x="361.63" y="252.32" width="58.48" height="0.87" fill="#fff6dc" opacity="0.28"/>
<rect x="420.11" y="252.32" width="25.69" height="0.87" fill="#6a3600" opacity="0.07"/>
<rect x="265.3" y="253" width="51.69" height="0.86" fill="#fff6dc" opacity="0.27"/>
<rect x="336.94" y="253" width="39.22" height="0.86" fill="#fff6dc" opacity="0.23"/>
<rect x="376.15" y="253" width="17.49" height="0.86" fill="#6a3600" opacity="0.08"/>
<rect x="422.45" y="253" width="19.79" height="0.86" fill="#fff6dc" opacity="0.31"/>
<rect x="442.24" y="253" width="3.56" height="0.86" fill="#fff6dc" opacity="0.24"/>
<rect x="265.3" y="253.62" width="69.33" height="0.84" fill="#fff6dc" opacity="0.21"/>
<rect x="334.63" y="253.62" width="56.28" height="0.84" fill="#fff6dc" opacity="0.38"/>
<rect x="390.91" y="253.62" width="42.49" height="0.84" fill="#fff6dc" opacity="0.25"/>
<rect x="433.4" y="253.62" width="12.4" height="0.84" fill="#fff6dc" opacity="0.28"/>
<rect x="308.11" y="254.59" width="52.63" height="0.63" fill="#fff6dc" opacity="0.39"/>
<rect x="360.74" y="254.59" width="24.57" height="0.63" fill="#6a3600" opacity="0.06"/>
<rect x="385.31" y="254.59" width="48.44" height="0.63" fill="#fff6dc" opacity="0.21"/>
<rect x="433.75" y="254.59" width="12.05" height="0.63" fill="#6a3600" opacity="0.16"/>
<rect x="265.3" y="255.23" width="27.17" height="0.62" fill="#6a3600" opacity="0.11"/>
<rect x="292.47" y="255.23" width="16.94" height="0.62" fill="#6a3600" opacity="0.15"/>
<rect x="355.91" y="255.23" width="24.9" height="0.62" fill="#fff6dc" opacity="0.06"/>
<rect x="380.81" y="255.23" width="42.29" height="0.62" fill="#fff6dc" opacity="0.21"/>
<rect x="423.09" y="255.23" width="22.71" height="0.62" fill="#6a3600" opacity="0.04"/>
<rect x="265.3" y="256.27" width="44.88" height="0.66" fill="#6a3600" opacity="0.07"/>
<rect x="310.18" y="256.27" width="23.04" height="0.66" fill="#fff6dc" opacity="0.07"/>
<rect x="333.22" y="256.27" width="32.29" height="0.66" fill="#6a3600" opacity="0.12"/>
<rect x="365.51" y="256.27" width="29.56" height="0.66" fill="#6a3600" opacity="0.05"/>
<rect x="395.07" y="256.27" width="50.73" height="0.66" fill="#fff6dc" opacity="0.15"/>
<rect x="265.3" y="256.87" width="60.7" height="0.73" fill="#6a3600" opacity="0.04"/>
<rect x="326" y="256.87" width="37.58" height="0.73" fill="#fff6dc" opacity="0.13"/>
<rect x="363.59" y="256.87" width="68.38" height="0.73" fill="#fff6dc" opacity="0.24"/>
<rect x="265.3" y="257.45" width="55.97" height="0.6" fill="#fff6dc" opacity="0.14"/>
<rect x="321.27" y="257.45" width="63.95" height="0.6" fill="#fff6dc" opacity="0.20"/>
<rect x="385.23" y="257.45" width="31.39" height="0.6" fill="#fff6dc" opacity="0.08"/>
<rect x="433.5" y="257.45" width="12.3" height="0.6" fill="#6a3600" opacity="0.07"/>
<rect x="265.3" y="258.11" width="28.29" height="0.65" fill="#fff6dc" opacity="0.41"/>
<rect x="293.59" y="258.11" width="35.02" height="0.65" fill="#fff6dc" opacity="0.43"/>
<rect x="328.61" y="258.11" width="48.6" height="0.65" fill="#fff6dc" opacity="0.21"/>
<rect x="377.21" y="258.11" width="50.74" height="0.65" fill="#fff6dc" opacity="0.18"/>
<rect x="265.3" y="258.96" width="40.44" height="0.84" fill="#fff6dc" opacity="0.39"/>
<rect x="305.74" y="258.96" width="35.96" height="0.84" fill="#6a3600" opacity="0.07"/>
<rect x="341.7" y="258.96" width="34.11" height="0.84" fill="#fff6dc" opacity="0.27"/>
<rect x="375.81" y="258.96" width="24.01" height="0.84" fill="#fff6dc" opacity="0.14"/>
<rect x="399.83" y="258.96" width="40.72" height="0.84" fill="#fff6dc" opacity="0.23"/>
<rect x="440.55" y="258.96" width="5.25" height="0.84" fill="#6a3600" opacity="0.18"/>
<rect x="265.3" y="259.58" width="19" height="0.56" fill="#6a3600" opacity="0.09"/>
<rect x="284.3" y="259.58" width="30.1" height="0.56" fill="#fff6dc" opacity="0.12"/>
<rect x="314.4" y="259.58" width="29.43" height="0.56" fill="#fff6dc" opacity="0.42"/>
<rect x="343.83" y="259.58" width="54.34" height="0.56" fill="#fff6dc" opacity="0.20"/>
<rect x="421.61" y="259.58" width="24.19" height="0.56" fill="#6a3600" opacity="0.15"/>
<rect x="265.3" y="260.63" width="32.71" height="0.36" fill="#fff6dc" opacity="0.08"/>
<rect x="298.01" y="260.63" width="63.53" height="0.36" fill="#fff6dc" opacity="0.37"/>
<rect x="361.55" y="260.63" width="43.56" height="0.36" fill="#fff6dc" opacity="0.21"/>
<rect x="405.11" y="260.63" width="28.11" height="0.36" fill="#fff6dc" opacity="0.11"/>
<rect x="433.21" y="260.63" width="12.59" height="0.36" fill="#fff6dc" opacity="0.18"/>
<rect x="265.3" y="261.38" width="22.48" height="0.65" fill="#6a3600" opacity="0.07"/>
<rect x="287.78" y="261.38" width="54.9" height="0.65" fill="#6a3600" opacity="0.06"/>
<rect x="342.68" y="261.38" width="26.26" height="0.65" fill="#fff6dc" opacity="0.35"/>
<rect x="368.95" y="261.38" width="37.29" height="0.65" fill="#fff6dc" opacity="0.42"/>
<rect x="406.24" y="261.38" width="27.43" height="0.65" fill="#fff6dc" opacity="0.20"/>
<rect x="433.67" y="261.38" width="12.13" height="0.65" fill="#fff6dc" opacity="0.06"/>
<rect x="324.78" y="262.26" width="31.4" height="0.66" fill="#6a3600" opacity="0.19"/>
<rect x="356.18" y="262.26" width="26.89" height="0.66" fill="#6a3600" opacity="0.14"/>
<rect x="265.3" y="262.9" width="19.94" height="0.7" fill="#fff6dc" opacity="0.22"/>
<rect x="285.24" y="262.9" width="18.31" height="0.7" fill="#fff6dc" opacity="0.19"/>
<rect x="303.55" y="262.9" width="42.34" height="0.7" fill="#fff6dc" opacity="0.12"/>
<rect x="345.89" y="262.9" width="37.13" height="0.7" fill="#fff6dc" opacity="0.12"/>
<rect x="383.03" y="262.9" width="51.59" height="0.7" fill="#fff6dc" opacity="0.09"/>
<rect x="434.61" y="262.9" width="11.19" height="0.7" fill="#fff6dc" opacity="0.12"/>
<rect x="265.3" y="263.75" width="45.43" height="0.74" fill="#6a3600" opacity="0.03"/>
<rect x="310.73" y="263.75" width="36.53" height="0.74" fill="#fff6dc" opacity="0.08"/>
<rect x="347.25" y="263.75" width="37.24" height="0.74" fill="#fff6dc" opacity="0.27"/>
<rect x="384.49" y="263.75" width="47.22" height="0.74" fill="#fff6dc" opacity="0.20"/>
<rect x="431.71" y="263.75" width="14.09" height="0.74" fill="#fff6dc" opacity="0.20"/>
<rect x="265.3" y="264.79" width="29.4" height="0.66" fill="#6a3600" opacity="0.06"/>
<rect x="294.7" y="264.79" width="40.81" height="0.66" fill="#6a3600" opacity="0.19"/>
<rect x="335.51" y="264.79" width="34.94" height="0.66" fill="#fff6dc" opacity="0.48"/>
<rect x="370.46" y="264.79" width="57.43" height="0.66" fill="#6a3600" opacity="0.14"/>
<rect x="427.89" y="264.79" width="17.91" height="0.66" fill="#fff6dc" opacity="0.18"/>
<rect x="301.3" y="265.78" width="17.1" height="0.83" fill="#fff6dc" opacity="0.29"/>
<rect x="318.4" y="265.78" width="31.97" height="0.83" fill="#fff6dc" opacity="0.51"/>
<rect x="350.37" y="265.78" width="23.24" height="0.83" fill="#fff6dc" opacity="0.16"/>
<rect x="373.62" y="265.78" width="52.41" height="0.83" fill="#fff6dc" opacity="0.05"/>
<rect x="426.03" y="265.78" width="19.77" height="0.83" fill="#fff6dc" opacity="0.16"/>
<rect x="265.3" y="266.58" width="45.15" height="0.71" fill="#6a3600" opacity="0.13"/>
<rect x="371.16" y="266.58" width="33.34" height="0.71" fill="#fff6dc" opacity="0.47"/>
<rect x="404.5" y="266.58" width="32.23" height="0.71" fill="#6a3600" opacity="0.15"/>
<rect x="265.3" y="267.57" width="49.19" height="0.44" fill="#fff6dc" opacity="0.32"/>
<rect x="314.49" y="267.57" width="35.32" height="0.44" fill="#fff6dc" opacity="0.41"/>
<rect x="349.81" y="267.57" width="44.37" height="0.44" fill="#fff6dc" opacity="0.17"/>
<rect x="394.18" y="267.57" width="32.87" height="0.44" fill="#fff6dc" opacity="0.30"/>
<rect x="427.06" y="267.57" width="18.74" height="0.44" fill="#fff6dc" opacity="0.08"/>
<rect x="265.3" y="268.14" width="21.2" height="0.74" fill="#fff6dc" opacity="0.43"/>
<rect x="286.5" y="268.14" width="41.44" height="0.74" fill="#fff6dc" opacity="0.48"/>
<rect x="327.94" y="268.14" width="62.84" height="0.74" fill="#fff6dc" opacity="0.17"/>
<rect x="390.78" y="268.14" width="42.91" height="0.74" fill="#6a3600" opacity="0.10"/>
<rect x="433.69" y="268.14" width="12.11" height="0.74" fill="#fff6dc" opacity="0.40"/>
<rect x="265.3" y="268.1" width="180.5" height="1" fill="#f2e2aa" opacity="0.85"/>
<rect x="357.87" y="269.5" width="87.93" height="0.63" fill="#1a0000" opacity="0.19"/>
<rect x="353.5" y="270.22" width="48.78" height="0.89" fill="#1a0000" opacity="0.19"/>
<rect x="265.3" y="270.9" width="117.83" height="0.87" fill="#b05018" opacity="0.04"/>
<rect x="292.39" y="272.14" width="124.72" height="1.08" fill="#b05018" opacity="0.06"/>
<rect x="339.42" y="272.84" width="47.76" height="1.05" fill="#1a0000" opacity="0.06"/>
<rect x="265.3" y="273.18" width="79.51" height="0.6" fill="#1a0000" opacity="0.22"/>
<rect x="274.77" y="273.5" width="150.07" height="0.78" fill="#b05018" opacity="0.05"/>
<rect x="347.76" y="274.64" width="98.04" height="0.6" fill="#b05018" opacity="0.06"/>
<rect x="265.3" y="275.33" width="56.26" height="0.89" fill="#1a0000" opacity="0.19"/>
<rect x="265.3" y="275.74" width="78.55" height="1.05" fill="#b05018" opacity="0.05"/>
<rect x="269.14" y="276.06" width="64.13" height="0.8" fill="#b05018" opacity="0.06"/>
<rect x="265.3" y="276.84" width="163.9" height="0.66" fill="#b05018" opacity="0.03"/>
<rect x="384.85" y="277.45" width="60.33" height="0.45" fill="#b05018" opacity="0.05"/>
<rect x="288.65" y="278.62" width="38.65" height="0.74" fill="#b05018" opacity="0.07"/>
<rect x="375.52" y="279.47" width="70.28" height="0.86" fill="#1a0000" opacity="0.10"/>
<rect x="265.3" y="280.76" width="34.02" height="0.71" fill="#1a0000" opacity="0.17"/>
<rect x="345.87" y="281.23" width="76.5" height="0.48" fill="#b05018" opacity="0.05"/>
<rect x="265.3" y="282.05" width="109.09" height="0.41" fill="#b05018" opacity="0.08"/>
<rect x="353.79" y="283.16" width="92.01" height="0.95" fill="#1a0000" opacity="0.12"/>
<rect x="289.66" y="284.22" width="135.79" height="1.09" fill="#b05018" opacity="0.08"/>
<rect x="265.3" y="284.77" width="88.26" height="1.04" fill="#b05018" opacity="0.06"/>
<rect x="327.38" y="285.44" width="83.11" height="0.86" fill="#1a0000" opacity="0.11"/>
<rect x="278.87" y="286.02" width="141.24" height="1.03" fill="#b05018" opacity="0.03"/>
<rect x="265.3" y="286.53" width="45.87" height="0.92" fill="#1a0000" opacity="0.17"/>
<rect x="305.71" y="286.98" width="90.5" height="0.65" fill="#b05018" opacity="0.03"/>
<rect x="366.18" y="287.6" width="78.13" height="0.78" fill="#1a0000" opacity="0.08"/>
<rect x="379.33" y="288.65" width="62.94" height="0.48" fill="#1a0000" opacity="0.12"/>
<rect x="333.65" y="289.36" width="112.15" height="0.89" fill="#b05018" opacity="0.04"/>
<rect x="265.3" y="289.98" width="125.21" height="0.53" fill="#b05018" opacity="0.08"/>
<rect x="367.32" y="290.66" width="78.48" height="0.85" fill="#b05018" opacity="0.06"/>
<rect x="359.3" y="291.59" width="86.5" height="0.75" fill="#1a0000" opacity="0.07"/>
<rect x="265.3" y="292.34" width="120.1" height="0.87" fill="#b05018" opacity="0.05"/>
<rect x="296.79" y="293.22" width="119" height="0.76" fill="#b05018" opacity="0.06"/>
<rect x="384.16" y="294.11" width="61.64" height="1.05" fill="#b05018" opacity="0.05"/>
<rect x="364.1" y="294.72" width="49" height="0.92" fill="#1a0000" opacity="0.12"/>
<rect x="329.18" y="296.01" width="116.62" height="0.74" fill="#b05018" opacity="0.07"/>
<rect x="265.3" y="297.14" width="160.51" height="0.96" fill="#1a0000" opacity="0.22"/>
<rect x="311.11" y="298.15" width="134.69" height="0.58" fill="#1a0000" opacity="0.13"/>
<rect x="314.1" y="298.65" width="131.7" height="0.6" fill="#1a0000" opacity="0.06"/>
<rect x="348.63" y="299.44" width="97.17" height="0.57" fill="#1a0000" opacity="0.20"/>
<rect x="265.3" y="300.65" width="35.52" height="0.96" fill="#b05018" opacity="0.05"/>
<rect x="265.3" y="301.29" width="88.29" height="1.01" fill="#1a0000" opacity="0.07"/>
<rect x="383.36" y="302.44" width="61.01" height="0.83" fill="#1a0000" opacity="0.06"/>
<rect x="332.24" y="303.37" width="94.62" height="1.01" fill="#1a0000" opacity="0.08"/>
<rect x="269.87" y="303.69" width="120.46" height="0.64" fill="#b05018" opacity="0.06"/>
<rect x="299.93" y="304.68" width="49.37" height="0.53" fill="#b05018" opacity="0.06"/>
<rect x="265.3" y="305.1" width="179.23" height="1.06" fill="#1a0000" opacity="0.11"/>
<rect x="290.62" y="306.09" width="51.94" height="0.92" fill="#b05018" opacity="0.05"/>
<rect x="298.39" y="307.02" width="105.97" height="0.7" fill="#1a0000" opacity="0.12"/>
<rect x="317.98" y="308.26" width="72.73" height="0.64" fill="#1a0000" opacity="0.09"/>
<rect x="298.09" y="309.43" width="147.71" height="0.6" fill="#1a0000" opacity="0.17"/>
<rect x="265.3" y="310.12" width="92.86" height="0.92" fill="#1a0000" opacity="0.13"/>
<rect x="336.49" y="310.7" width="109.31" height="0.71" fill="#1a0000" opacity="0.10"/>
<rect x="265.57" y="311.25" width="93.1" height="0.69" fill="#b05018" opacity="0.07"/>
<rect x="312.65" y="311.89" width="44.91" height="0.97" fill="#1a0000" opacity="0.15"/>
<rect x="340.99" y="313.09" width="104.81" height="0.46" fill="#b05018" opacity="0.05"/>
<rect x="326.58" y="313.73" width="100.38" height="1.03" fill="#1a0000" opacity="0.05"/>
<rect x="322.19" y="314.39" width="123.61" height="0.73" fill="#b05018" opacity="0.07"/>
<rect x="329.29" y="315.67" width="116.51" height="1.09" fill="#b05018" opacity="0.09"/>
<rect x="330.27" y="316.97" width="62.71" height="0.45" fill="#b05018" opacity="0.06"/>
<rect x="288.44" y="318.25" width="141.27" height="0.55" fill="#b05018" opacity="0.04"/>
<rect x="344.02" y="318.64" width="68.01" height="0.52" fill="#1a0000" opacity="0.16"/>
<rect x="300.29" y="319.75" width="32.37" height="0.91" fill="#1a0000" opacity="0.07"/>
<rect x="281.48" y="320.91" width="110.38" height="1.06" fill="#1a0000" opacity="0.05"/>
<rect x="306.47" y="321.74" width="48.69" height="0.48" fill="#1a0000" opacity="0.10"/>
<rect x="272.34" y="322.61" width="146.62" height="0.49" fill="#b05018" opacity="0.09"/>
<rect x="297.57" y="323.16" width="113.72" height="0.69" fill="#b05018" opacity="0.06"/>
<rect x="265.3" y="323.92" width="175.55" height="1" fill="#b05018" opacity="0.14"/>
<rect x="379.5" y="324.74" width="66.3" height="0.68" fill="#1a0000" opacity="0.20"/>
<rect x="339.32" y="325.05" width="53.48" height="0.51" fill="#1a0000" opacity="0.17"/>
<rect x="379.89" y="325.88" width="65.91" height="0.42" fill="#b05018" opacity="0.07"/>
<rect x="267.03" y="327.03" width="46.76" height="0.43" fill="#b05018" opacity="0.04"/>
<rect x="367.17" y="328.25" width="78.63" height="0.63" fill="#b05018" opacity="0.13"/>
<rect x="273.2" y="329.12" width="140.9" height="0.75" fill="#1a0000" opacity="0.12"/>
<rect x="282.66" y="329.68" width="94.57" height="0.66" fill="#b05018" opacity="0.11"/>
<rect x="309.76" y="330.43" width="112.13" height="0.43" fill="#1a0000" opacity="0.06"/>
<rect x="275.61" y="331.13" width="102.6" height="0.56" fill="#b05018" opacity="0.09"/>
<rect x="290.36" y="331.66" width="155.44" height="0.92" fill="#b05018" opacity="0.03"/>
<rect x="320.99" y="331.96" width="85.33" height="0.82" fill="#1a0000" opacity="0.11"/>
<rect x="304.92" y="332.57" width="107.43" height="0.83" fill="#1a0000" opacity="0.10"/>
<rect x="268.52" y="333.62" width="149.35" height="0.44" fill="#b05018" opacity="0.08"/>
<rect x="334.08" y="334.35" width="42.82" height="1" fill="#b05018" opacity="0.08"/>
<rect x="356.4" y="335.63" width="89.4" height="0.98" fill="#b05018" opacity="0.09"/>
<rect x="325.25" y="336.57" width="112.81" height="0.44" fill="#1a0000" opacity="0.06"/>
<rect x="345.74" y="337.8" width="100.06" height="0.85" fill="#b05018" opacity="0.23"/>
<rect x="382.69" y="338.1" width="63.11" height="0.92" fill="#b05018" opacity="0.18"/>
<rect x="285.75" y="338.48" width="97.15" height="0.95" fill="#b05018" opacity="0.19"/>
<rect x="265.3" y="339.22" width="47.38" height="0.48" fill="#b05018" opacity="0.19"/>
<rect x="265.3" y="194.7" width="180.5" height="145.8" fill="none" stroke="#1a0a05" stroke-width="1"/>
<text x="269.4" y="205.3" font-size="7.4" text-anchor="start" font-weight="bold" fill="#fff" stroke="#fff" stroke-width="0.2" >TP-BT-0F-COF</text>
<text x="345.7" y="237.7" font-size="7.4" text-anchor="start" font-weight="bold" fill="#fff" stroke="#fff" stroke-width="0.2" >Dark</text>
<text x="345.7" y="306.5" font-size="7.4" text-anchor="start" font-weight="bold" fill="#fff" stroke="#fff" stroke-width="0.2" >Light</text>
<line x1="353.1" y1="241.2" x2="353.1" y2="290" stroke="#fff" stroke-width="1.1" />
<path d="M350.9,289 L355.3,289 L353.1,297.2Z" fill="#fff"/>
<text x="268" y="351.1" font-size="7.4" text-anchor="start" font-weight="bold" fill="#111" stroke="#111" stroke-width="0.2" >Potential</text>
<text x="413.8" y="351.1" font-size="7.4" text-anchor="start" font-weight="bold" fill="#111" stroke="#111" stroke-width="0.2" >1.0 &#181;m</text>
<line x1="412.3" y1="355.4" x2="441.4" y2="355.4" stroke="#111" stroke-width="1.3" />
<text transform="translate(458.2,197.5) scale(1,1.06)" x="0" y="0" font-size="10.9" text-anchor="start" font-weight="bold" fill="#111" stroke="#111" stroke-width="0.2" >(F)</text>
<rect x="497.3" y="194.7" width="180.8" height="146.55" fill="none" stroke="#1a1a1a" stroke-width="1.15"/>
<line x1="494.7" y1="341.25" x2="497.3" y2="341.25" stroke="#1a1a1a" stroke-width="0.9" />
<text transform="translate(492.6,344) scale(1,1.12)" x="0" y="0" font-size="8.05" text-anchor="end" font-weight="bold" fill="#111" stroke="#111" stroke-width="0.2" >-80</text>
<line x1="495.9" y1="333.92" x2="497.3" y2="333.92" stroke="#1a1a1a" stroke-width="0.9" />
<line x1="494.7" y1="326.6" x2="497.3" y2="326.6" stroke="#1a1a1a" stroke-width="0.9" />
<text transform="translate(492.6,329.35) scale(1,1.12)" x="0" y="0" font-size="8.05" text-anchor="end" font-weight="bold" fill="#111" stroke="#111" stroke-width="0.2" >-60</text>
<line x1="495.9" y1="319.27" x2="497.3" y2="319.27" stroke="#1a1a1a" stroke-width="0.9" />
<line x1="494.7" y1="311.94" x2="497.3" y2="311.94" stroke="#1a1a1a" stroke-width="0.9" />
<text transform="translate(492.6,314.69) scale(1,1.12)" x="0" y="0" font-size="8.05" text-anchor="end" font-weight="bold" fill="#111" stroke="#111" stroke-width="0.2" >-40</text>
<line x1="495.9" y1="304.61" x2="497.3" y2="304.61" stroke="#1a1a1a" stroke-width="0.9" />
<line x1="494.7" y1="297.28" x2="497.3" y2="297.28" stroke="#1a1a1a" stroke-width="0.9" />
<text transform="translate(492.6,300.03) scale(1,1.12)" x="0" y="0" font-size="8.05" text-anchor="end" font-weight="bold" fill="#111" stroke="#111" stroke-width="0.2" >-20</text>
<line x1="495.9" y1="289.96" x2="497.3" y2="289.96" stroke="#1a1a1a" stroke-width="0.9" />
<line x1="494.7" y1="282.63" x2="497.3" y2="282.63" stroke="#1a1a1a" stroke-width="0.9" />
<text transform="translate(492.6,285.38) scale(1,1.12)" x="0" y="0" font-size="8.05" text-anchor="end" font-weight="bold" fill="#111" stroke="#111" stroke-width="0.2" >0</text>
<line x1="495.9" y1="275.3" x2="497.3" y2="275.3" stroke="#1a1a1a" stroke-width="0.9" />
<line x1="494.7" y1="267.98" x2="497.3" y2="267.98" stroke="#1a1a1a" stroke-width="0.9" />
<text transform="translate(492.6,270.73) scale(1,1.12)" x="0" y="0" font-size="8.05" text-anchor="end" font-weight="bold" fill="#111" stroke="#111" stroke-width="0.2" >20</text>
<line x1="495.9" y1="260.65" x2="497.3" y2="260.65" stroke="#1a1a1a" stroke-width="0.9" />
<line x1="494.7" y1="253.32" x2="497.3" y2="253.32" stroke="#1a1a1a" stroke-width="0.9" />
<text transform="translate(492.6,256.07) scale(1,1.12)" x="0" y="0" font-size="8.05" text-anchor="end" font-weight="bold" fill="#111" stroke="#111" stroke-width="0.2" >40</text>
<line x1="495.9" y1="245.99" x2="497.3" y2="245.99" stroke="#1a1a1a" stroke-width="0.9" />
<line x1="494.7" y1="238.66" x2="497.3" y2="238.66" stroke="#1a1a1a" stroke-width="0.9" />
<text transform="translate(492.6,241.41) scale(1,1.12)" x="0" y="0" font-size="8.05" text-anchor="end" font-weight="bold" fill="#111" stroke="#111" stroke-width="0.2" >60</text>
<line x1="495.9" y1="231.34" x2="497.3" y2="231.34" stroke="#1a1a1a" stroke-width="0.9" />
<line x1="494.7" y1="224.01" x2="497.3" y2="224.01" stroke="#1a1a1a" stroke-width="0.9" />
<text transform="translate(492.6,226.76) scale(1,1.12)" x="0" y="0" font-size="8.05" text-anchor="end" font-weight="bold" fill="#111" stroke="#111" stroke-width="0.2" >80</text>
<line x1="495.9" y1="216.68" x2="497.3" y2="216.68" stroke="#1a1a1a" stroke-width="0.9" />
<line x1="494.7" y1="209.35" x2="497.3" y2="209.35" stroke="#1a1a1a" stroke-width="0.9" />
<text transform="translate(492.6,212.1) scale(1,1.12)" x="0" y="0" font-size="8.05" text-anchor="end" font-weight="bold" fill="#111" stroke="#111" stroke-width="0.2" >100</text>
<line x1="495.9" y1="202.03" x2="497.3" y2="202.03" stroke="#1a1a1a" stroke-width="0.9" />
<line x1="494.7" y1="194.7" x2="497.3" y2="194.7" stroke="#1a1a1a" stroke-width="0.9" />
<text transform="translate(492.6,197.45) scale(1,1.12)" x="0" y="0" font-size="8.05" text-anchor="end" font-weight="bold" fill="#111" stroke="#111" stroke-width="0.2" >120</text>
<line x1="497.3" y1="341.25" x2="497.3" y2="343.55" stroke="#1a1a1a" stroke-width="0.9" />
<text transform="translate(497.3,351.8) scale(1,1.12)" x="0" y="0" font-size="8.05" text-anchor="middle" font-weight="bold" fill="#111" stroke="#111" stroke-width="0.2" >0.0</text>
<line x1="507.34" y1="341.25" x2="507.34" y2="342.55" stroke="#1a1a1a" stroke-width="0.9" />
<line x1="517.39" y1="341.25" x2="517.39" y2="343.55" stroke="#1a1a1a" stroke-width="0.9" />
<text transform="translate(517.39,351.8) scale(1,1.12)" x="0" y="0" font-size="8.05" text-anchor="middle" font-weight="bold" fill="#111" stroke="#111" stroke-width="0.2" >0.3</text>
<line x1="527.43" y1="341.25" x2="527.43" y2="342.55" stroke="#1a1a1a" stroke-width="0.9" />
<line x1="537.48" y1="341.25" x2="537.48" y2="343.55" stroke="#1a1a1a" stroke-width="0.9" />
<text transform="translate(537.48,351.8) scale(1,1.12)" x="0" y="0" font-size="8.05" text-anchor="middle" font-weight="bold" fill="#111" stroke="#111" stroke-width="0.2" >0.6</text>
<line x1="547.52" y1="341.25" x2="547.52" y2="342.55" stroke="#1a1a1a" stroke-width="0.9" />
<line x1="557.57" y1="341.25" x2="557.57" y2="343.55" stroke="#1a1a1a" stroke-width="0.9" />
<text transform="translate(557.57,351.8) scale(1,1.12)" x="0" y="0" font-size="8.05" text-anchor="middle" font-weight="bold" fill="#111" stroke="#111" stroke-width="0.2" >0.9</text>
<line x1="567.61" y1="341.25" x2="567.61" y2="342.55" stroke="#1a1a1a" stroke-width="0.9" />
<line x1="577.66" y1="341.25" x2="577.66" y2="343.55" stroke="#1a1a1a" stroke-width="0.9" />
<text transform="translate(577.66,351.8) scale(1,1.12)" x="0" y="0" font-size="8.05" text-anchor="middle" font-weight="bold" fill="#111" stroke="#111" stroke-width="0.2" >1.2</text>
<line x1="587.7" y1="341.25" x2="587.7" y2="342.55" stroke="#1a1a1a" stroke-width="0.9" />
<line x1="597.74" y1="341.25" x2="597.74" y2="343.55" stroke="#1a1a1a" stroke-width="0.9" />
<text transform="translate(597.74,351.8) scale(1,1.12)" x="0" y="0" font-size="8.05" text-anchor="middle" font-weight="bold" fill="#111" stroke="#111" stroke-width="0.2" >1.5</text>
<line x1="607.79" y1="341.25" x2="607.79" y2="342.55" stroke="#1a1a1a" stroke-width="0.9" />
<line x1="617.83" y1="341.25" x2="617.83" y2="343.55" stroke="#1a1a1a" stroke-width="0.9" />
<text transform="translate(617.83,351.8) scale(1,1.12)" x="0" y="0" font-size="8.05" text-anchor="middle" font-weight="bold" fill="#111" stroke="#111" stroke-width="0.2" >1.8</text>
<line x1="627.88" y1="341.25" x2="627.88" y2="342.55" stroke="#1a1a1a" stroke-width="0.9" />
<line x1="637.92" y1="341.25" x2="637.92" y2="343.55" stroke="#1a1a1a" stroke-width="0.9" />
<text transform="translate(637.92,351.8) scale(1,1.12)" x="0" y="0" font-size="8.05" text-anchor="middle" font-weight="bold" fill="#111" stroke="#111" stroke-width="0.2" >2.1</text>
<line x1="647.97" y1="341.25" x2="647.97" y2="342.55" stroke="#1a1a1a" stroke-width="0.9" />
<line x1="658.01" y1="341.25" x2="658.01" y2="343.55" stroke="#1a1a1a" stroke-width="0.9" />
<text transform="translate(658.01,351.8) scale(1,1.12)" x="0" y="0" font-size="8.05" text-anchor="middle" font-weight="bold" fill="#111" stroke="#111" stroke-width="0.2" >2.4</text>
<line x1="668.06" y1="341.25" x2="668.06" y2="342.55" stroke="#1a1a1a" stroke-width="0.9" />
<line x1="678.1" y1="341.25" x2="678.1" y2="343.55" stroke="#1a1a1a" stroke-width="0.9" />
<text transform="translate(678.1,351.8) scale(1,1.12)" x="0" y="0" font-size="8.05" text-anchor="middle" font-weight="bold" fill="#111" stroke="#111" stroke-width="0.2" >2.7</text>
<text x="587.7" y="364.5" font-size="8.6" text-anchor="middle" font-weight="bold" fill="#111" stroke="#111" stroke-width="0.2" >Length (&#181;m)</text>
<text transform="translate(475.2,268) rotate(-90)" x="0" y="0" font-size="8.6" text-anchor="middle" font-weight="bold" fill="#111" stroke="#111" stroke-width="0.2">Potential (mV)</text>
<line x1="502.2" y1="232.4" x2="596.5" y2="232.4" stroke="#111" stroke-width="1.2" stroke-dasharray="2.3,1.3"/>
<line x1="575.7" y1="304.2" x2="670" y2="304.2" stroke="#111" stroke-width="1.2" stroke-dasharray="2.3,1.3"/>
<line x1="581.1" y1="236" x2="581.1" y2="300.5" stroke="#3a3a3a" stroke-width="0.85" />
<path d="M579.8,236.8 L582.4,236.8 L581.1,232.8Z" fill="#222"/>
<path d="M579.8,300 L582.4,300 L581.1,304Z" fill="#222"/>
<text x="552.6" y="275.8" font-size="7.4" text-anchor="start" font-weight="bold" fill="#111" stroke="#111" stroke-width="0.2" >98 mV</text>
<text x="534" y="217.1" font-size="7.4" text-anchor="start" font-weight="bold" fill="#111" stroke="#111" stroke-width="0.2" >Dark</text>
<text x="607.2" y="323.2" font-size="7.4" text-anchor="start" font-weight="bold" fill="#111" stroke="#111" stroke-width="0.2" >Light</text>
<polyline points="497,249.4 498.63,237.85 499.99,239.21 501.76,242.61 503.52,227.66 504.88,230.38 506.51,233.1 508.55,222.91 509.91,224.27 511.27,223.59 512.62,222.91 514.66,233.1 516.02,235.82 517.38,233.78 518.74,235.82 520.1,234.46 521.46,240.57 522.82,241.25 524.17,234.46 524.85,243.29 526.21,233.1 527.57,234.46 528.52,230.38 529.61,246.68 530.97,219.51 532.05,223.59 533.01,222.23 534.36,221.55 535.72,223.59 536.4,230.38 537.49,222.91 538.44,230.38 539.8,231.74 541.16,233.1 542.52,242.61 543.88,237.17 545.23,237.85 546.59,233.78 547.95,240.57 549.31,228.34 550.67,236.49 552.03,233.1 552.98,226.98 554.07,233.1 555.42,235.82 556.78,236.49 558.14,230.38 559.91,217.47 561.54,230.38 563.58,220.19 564.66,230.38 566.02,224.95 567.65,216.79 569.01,218.83 570.37,218.83 571.73,222.23 573.77,225.62 575.8,229.02 577.16,230.38 578.52,220.87 579.61,212.72 580.97,215.43 581.92,216.11 582.87,231.74 586.68,283.76 588.14,293.98 589.6,291.79 591.06,294.71 592.52,298.36 593.69,302.74 594.71,296.9 595.44,300.55 596.61,294.71 597.63,300.55 598.36,293.25 599.53,305.66 600.55,293.25 601.57,301.28 602.74,300.55 603.91,306.39 604.93,304.2 606.39,307.12 607.85,304.2 609.31,301.28 610.77,296.9 612.23,299.82 613.25,304.2 614.42,305.66 615.58,309.31 616.61,305.66 617.63,310.04 618.8,302.74 619.67,311.5 620.55,304.2 621.72,300.55 622.88,305.66 623.91,310.77 624.93,306.39 626.09,310.04 627.55,307.85 629.01,309.31 630.47,304.93 631.93,301.28 633.39,298.36 634.85,299.82 636.31,298.36 637.77,300.55 638.65,295.44 639.96,310.04 641.42,304.2 642.45,298.36 643.61,300.55 644.78,305.66 646.24,292.52 647.41,303.47 648.72,302.01 649.74,302.74 650.91,300.55 652.08,298.36 653.1,300.55 654.56,296.9 656.02,297.63 657.19,295.44 658.5,301.28 659.67,296.9 660.84,298.36 662.01,293.98 663.32,291.06 664.78,289.6 665.8,293.98 667.26,284.49" fill="none" stroke="#e8302a" stroke-width="1.3" stroke-linejoin="round" stroke-linecap="round" />
<line x1="599.8" y1="200.6" x2="615.3" y2="200.6" stroke="#e8302a" stroke-width="1.2" />
<text x="618.7" y="203.6" font-size="7.4" text-anchor="start" font-weight="bold" fill="#111" stroke="#111" stroke-width="0.2" >TP-BT-0F-COF</text>
</svg></body></html>
